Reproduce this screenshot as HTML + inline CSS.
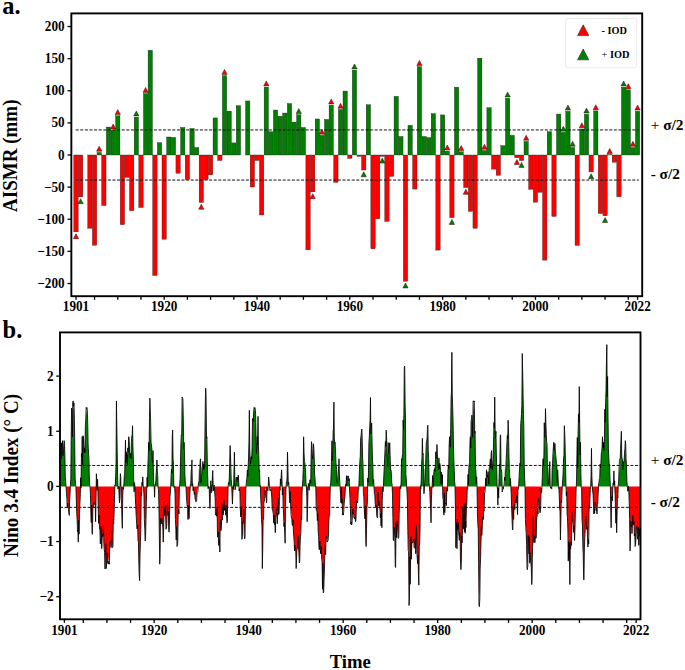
<!DOCTYPE html>
<html><head><meta charset="utf-8"><style>
html,body{margin:0;padding:0;background:#fff;width:685px;height:670px;overflow:hidden}
svg{display:block}
.t{font-family:"Liberation Serif",serif;font-weight:bold;fill:#000}
</style></head><body>
<svg width="685" height="670" viewBox="0 0 685 670">
<rect width="685" height="670" fill="#fff"/>
<g><rect x="73.83" y="155.00" width="4.35" height="76.84" fill="#ff0000" stroke="#1a1a1a" stroke-width="0.35"/><rect x="78.47" y="155.00" width="4.35" height="41.89" fill="#ff0000" stroke="#1a1a1a" stroke-width="0.35"/><rect x="87.75" y="155.00" width="4.35" height="73.25" fill="#ff0000" stroke="#1a1a1a" stroke-width="0.35"/><rect x="92.39" y="155.00" width="4.35" height="90.21" fill="#ff0000" stroke="#1a1a1a" stroke-width="0.35"/><rect x="97.03" y="152.43" width="4.35" height="2.57" fill="#008000" stroke="#1a1a1a" stroke-width="0.35"/><rect x="101.67" y="155.00" width="4.35" height="50.56" fill="#ff0000" stroke="#1a1a1a" stroke-width="0.35"/><rect x="106.31" y="127.05" width="4.35" height="27.95" fill="#008000" stroke="#1a1a1a" stroke-width="0.35"/><rect x="110.95" y="130.20" width="4.35" height="24.80" fill="#008000" stroke="#1a1a1a" stroke-width="0.35"/><rect x="115.59" y="115.81" width="4.35" height="39.19" fill="#008000" stroke="#1a1a1a" stroke-width="0.35"/><rect x="120.23" y="155.00" width="4.35" height="69.65" fill="#ff0000" stroke="#1a1a1a" stroke-width="0.35"/><rect x="124.88" y="155.00" width="4.35" height="22.42" fill="#ff0000" stroke="#1a1a1a" stroke-width="0.35"/><rect x="129.52" y="155.00" width="4.35" height="55.64" fill="#ff0000" stroke="#1a1a1a" stroke-width="0.35"/><rect x="134.16" y="117.22" width="4.35" height="37.78" fill="#008000" stroke="#1a1a1a" stroke-width="0.35"/><rect x="138.80" y="155.00" width="4.35" height="52.49" fill="#ff0000" stroke="#1a1a1a" stroke-width="0.35"/><rect x="143.44" y="93.58" width="4.35" height="61.42" fill="#008000" stroke="#1a1a1a" stroke-width="0.35"/><rect x="148.08" y="50.27" width="4.35" height="104.73" fill="#008000" stroke="#1a1a1a" stroke-width="0.35"/><rect x="152.72" y="155.00" width="4.35" height="120.47" fill="#ff0000" stroke="#1a1a1a" stroke-width="0.35"/><rect x="157.36" y="142.66" width="4.35" height="12.34" fill="#008000" stroke="#1a1a1a" stroke-width="0.35"/><rect x="162.00" y="155.00" width="4.35" height="84.17" fill="#ff0000" stroke="#1a1a1a" stroke-width="0.35"/><rect x="166.64" y="137.01" width="4.35" height="17.99" fill="#008000" stroke="#1a1a1a" stroke-width="0.35"/><rect x="171.29" y="137.40" width="4.35" height="17.60" fill="#008000" stroke="#1a1a1a" stroke-width="0.35"/><rect x="175.93" y="155.00" width="4.35" height="18.18" fill="#ff0000" stroke="#1a1a1a" stroke-width="0.35"/><rect x="180.57" y="127.44" width="4.35" height="27.56" fill="#008000" stroke="#1a1a1a" stroke-width="0.35"/><rect x="185.21" y="155.00" width="4.35" height="24.54" fill="#ff0000" stroke="#1a1a1a" stroke-width="0.35"/><rect x="189.85" y="128.53" width="4.35" height="26.47" fill="#008000" stroke="#1a1a1a" stroke-width="0.35"/><rect x="194.49" y="147.61" width="4.35" height="7.39" fill="#008000" stroke="#1a1a1a" stroke-width="0.35"/><rect x="199.13" y="155.00" width="4.35" height="47.42" fill="#ff0000" stroke="#1a1a1a" stroke-width="0.35"/><rect x="203.77" y="155.00" width="4.35" height="24.54" fill="#ff0000" stroke="#1a1a1a" stroke-width="0.35"/><rect x="208.41" y="155.00" width="4.35" height="19.85" fill="#ff0000" stroke="#1a1a1a" stroke-width="0.35"/><rect x="213.05" y="117.93" width="4.35" height="37.07" fill="#008000" stroke="#1a1a1a" stroke-width="0.35"/><rect x="217.70" y="155.00" width="4.35" height="5.46" fill="#ff0000" stroke="#1a1a1a" stroke-width="0.35"/><rect x="222.34" y="75.59" width="4.35" height="79.41" fill="#008000" stroke="#1a1a1a" stroke-width="0.35"/><rect x="226.98" y="111.12" width="4.35" height="43.88" fill="#008000" stroke="#1a1a1a" stroke-width="0.35"/><rect x="231.62" y="142.92" width="4.35" height="12.08" fill="#008000" stroke="#1a1a1a" stroke-width="0.35"/><rect x="236.26" y="105.66" width="4.35" height="49.34" fill="#008000" stroke="#1a1a1a" stroke-width="0.35"/><rect x="245.54" y="100.97" width="4.35" height="54.03" fill="#008000" stroke="#1a1a1a" stroke-width="0.35"/><rect x="250.18" y="155.00" width="4.35" height="32.00" fill="#ff0000" stroke="#1a1a1a" stroke-width="0.35"/><rect x="254.82" y="155.00" width="4.35" height="5.46" fill="#ff0000" stroke="#1a1a1a" stroke-width="0.35"/><rect x="259.46" y="155.00" width="4.35" height="59.95" fill="#ff0000" stroke="#1a1a1a" stroke-width="0.35"/><rect x="264.11" y="87.15" width="4.35" height="67.85" fill="#008000" stroke="#1a1a1a" stroke-width="0.35"/><rect x="268.75" y="131.68" width="4.35" height="23.32" fill="#008000" stroke="#1a1a1a" stroke-width="0.35"/><rect x="273.39" y="110.03" width="4.35" height="44.97" fill="#008000" stroke="#1a1a1a" stroke-width="0.35"/><rect x="278.03" y="116.26" width="4.35" height="38.74" fill="#008000" stroke="#1a1a1a" stroke-width="0.35"/><rect x="282.67" y="113.04" width="4.35" height="41.96" fill="#008000" stroke="#1a1a1a" stroke-width="0.35"/><rect x="287.31" y="103.54" width="4.35" height="51.46" fill="#008000" stroke="#1a1a1a" stroke-width="0.35"/><rect x="291.95" y="122.10" width="4.35" height="32.90" fill="#008000" stroke="#1a1a1a" stroke-width="0.35"/><rect x="296.59" y="114.72" width="4.35" height="40.28" fill="#008000" stroke="#1a1a1a" stroke-width="0.35"/><rect x="301.23" y="127.44" width="4.35" height="27.56" fill="#008000" stroke="#1a1a1a" stroke-width="0.35"/><rect x="305.88" y="155.00" width="4.35" height="94.83" fill="#ff0000" stroke="#1a1a1a" stroke-width="0.35"/><rect x="310.52" y="155.00" width="4.35" height="36.88" fill="#ff0000" stroke="#1a1a1a" stroke-width="0.35"/><rect x="315.16" y="118.96" width="4.35" height="36.04" fill="#008000" stroke="#1a1a1a" stroke-width="0.35"/><rect x="319.80" y="135.34" width="4.35" height="19.66" fill="#008000" stroke="#1a1a1a" stroke-width="0.35"/><rect x="324.44" y="119.41" width="4.35" height="35.59" fill="#008000" stroke="#1a1a1a" stroke-width="0.35"/><rect x="329.08" y="105.21" width="4.35" height="49.79" fill="#008000" stroke="#1a1a1a" stroke-width="0.35"/><rect x="333.72" y="155.00" width="4.35" height="27.31" fill="#ff0000" stroke="#1a1a1a" stroke-width="0.35"/><rect x="338.36" y="109.45" width="4.35" height="45.55" fill="#008000" stroke="#1a1a1a" stroke-width="0.35"/><rect x="343.00" y="91.07" width="4.35" height="63.93" fill="#008000" stroke="#1a1a1a" stroke-width="0.35"/><rect x="347.64" y="155.00" width="4.35" height="3.41" fill="#ff0000" stroke="#1a1a1a" stroke-width="0.35"/><rect x="352.28" y="70.19" width="4.35" height="84.81" fill="#008000" stroke="#1a1a1a" stroke-width="0.35"/><rect x="356.93" y="155.00" width="4.35" height="1.28" fill="#ff0000" stroke="#1a1a1a" stroke-width="0.35"/><rect x="361.57" y="155.00" width="4.35" height="14.97" fill="#ff0000" stroke="#1a1a1a" stroke-width="0.35"/><rect x="366.21" y="104.76" width="4.35" height="50.24" fill="#008000" stroke="#1a1a1a" stroke-width="0.35"/><rect x="370.85" y="155.00" width="4.35" height="93.81" fill="#ff0000" stroke="#1a1a1a" stroke-width="0.35"/><rect x="375.49" y="155.00" width="4.35" height="63.74" fill="#ff0000" stroke="#1a1a1a" stroke-width="0.35"/><rect x="380.13" y="155.00" width="4.35" height="1.28" fill="#ff0000" stroke="#1a1a1a" stroke-width="0.35"/><rect x="384.77" y="155.00" width="4.35" height="66.43" fill="#ff0000" stroke="#1a1a1a" stroke-width="0.35"/><rect x="389.41" y="155.00" width="4.35" height="21.40" fill="#ff0000" stroke="#1a1a1a" stroke-width="0.35"/><rect x="394.05" y="96.34" width="4.35" height="58.66" fill="#008000" stroke="#1a1a1a" stroke-width="0.35"/><rect x="398.69" y="136.50" width="4.35" height="18.50" fill="#008000" stroke="#1a1a1a" stroke-width="0.35"/><rect x="403.34" y="155.00" width="4.35" height="126.19" fill="#ff0000" stroke="#1a1a1a" stroke-width="0.35"/><rect x="407.98" y="125.32" width="4.35" height="29.68" fill="#008000" stroke="#1a1a1a" stroke-width="0.35"/><rect x="412.62" y="155.00" width="4.35" height="34.05" fill="#ff0000" stroke="#1a1a1a" stroke-width="0.35"/><rect x="417.26" y="66.66" width="4.35" height="88.34" fill="#008000" stroke="#1a1a1a" stroke-width="0.35"/><rect x="421.90" y="136.50" width="4.35" height="18.50" fill="#008000" stroke="#1a1a1a" stroke-width="0.35"/><rect x="426.54" y="137.65" width="4.35" height="17.35" fill="#008000" stroke="#1a1a1a" stroke-width="0.35"/><rect x="431.18" y="113.62" width="4.35" height="41.38" fill="#008000" stroke="#1a1a1a" stroke-width="0.35"/><rect x="435.82" y="155.00" width="4.35" height="95.09" fill="#ff0000" stroke="#1a1a1a" stroke-width="0.35"/><rect x="440.46" y="114.91" width="4.35" height="40.09" fill="#008000" stroke="#1a1a1a" stroke-width="0.35"/><rect x="445.10" y="151.15" width="4.35" height="3.85" fill="#008000" stroke="#1a1a1a" stroke-width="0.35"/><rect x="449.75" y="155.00" width="4.35" height="62.64" fill="#ff0000" stroke="#1a1a1a" stroke-width="0.35"/><rect x="454.39" y="87.15" width="4.35" height="67.85" fill="#008000" stroke="#1a1a1a" stroke-width="0.35"/><rect x="459.03" y="151.79" width="4.35" height="3.21" fill="#008000" stroke="#1a1a1a" stroke-width="0.35"/><rect x="463.67" y="155.00" width="4.35" height="32.57" fill="#ff0000" stroke="#1a1a1a" stroke-width="0.35"/><rect x="468.31" y="155.00" width="4.35" height="56.35" fill="#ff0000" stroke="#1a1a1a" stroke-width="0.35"/><rect x="472.95" y="155.00" width="4.35" height="73.25" fill="#ff0000" stroke="#1a1a1a" stroke-width="0.35"/><rect x="477.59" y="58.18" width="4.35" height="96.82" fill="#008000" stroke="#1a1a1a" stroke-width="0.35"/><rect x="482.23" y="150.50" width="4.35" height="4.50" fill="#008000" stroke="#1a1a1a" stroke-width="0.35"/><rect x="486.87" y="107.71" width="4.35" height="47.29" fill="#008000" stroke="#1a1a1a" stroke-width="0.35"/><rect x="491.51" y="155.00" width="4.35" height="14.13" fill="#ff0000" stroke="#1a1a1a" stroke-width="0.35"/><rect x="496.16" y="155.00" width="4.35" height="20.30" fill="#ff0000" stroke="#1a1a1a" stroke-width="0.35"/><rect x="500.80" y="145.68" width="4.35" height="9.32" fill="#008000" stroke="#1a1a1a" stroke-width="0.35"/><rect x="505.44" y="98.27" width="4.35" height="56.73" fill="#008000" stroke="#1a1a1a" stroke-width="0.35"/><rect x="510.08" y="135.34" width="4.35" height="19.66" fill="#008000" stroke="#1a1a1a" stroke-width="0.35"/><rect x="514.72" y="155.00" width="4.35" height="2.70" fill="#ff0000" stroke="#1a1a1a" stroke-width="0.35"/><rect x="519.36" y="155.00" width="4.35" height="5.59" fill="#ff0000" stroke="#1a1a1a" stroke-width="0.35"/><rect x="524.00" y="141.44" width="4.35" height="13.56" fill="#008000" stroke="#1a1a1a" stroke-width="0.35"/><rect x="528.64" y="155.00" width="4.35" height="34.31" fill="#ff0000" stroke="#1a1a1a" stroke-width="0.35"/><rect x="533.28" y="155.00" width="4.35" height="47.16" fill="#ff0000" stroke="#1a1a1a" stroke-width="0.35"/><rect x="537.93" y="155.00" width="4.35" height="37.26" fill="#ff0000" stroke="#1a1a1a" stroke-width="0.35"/><rect x="542.57" y="155.00" width="4.35" height="105.11" fill="#ff0000" stroke="#1a1a1a" stroke-width="0.35"/><rect x="547.21" y="131.68" width="4.35" height="23.32" fill="#008000" stroke="#1a1a1a" stroke-width="0.35"/><rect x="551.85" y="155.00" width="4.35" height="61.42" fill="#ff0000" stroke="#1a1a1a" stroke-width="0.35"/><rect x="556.49" y="114.07" width="4.35" height="40.93" fill="#008000" stroke="#1a1a1a" stroke-width="0.35"/><rect x="561.13" y="132.38" width="4.35" height="22.62" fill="#008000" stroke="#1a1a1a" stroke-width="0.35"/><rect x="565.77" y="111.31" width="4.35" height="43.69" fill="#008000" stroke="#1a1a1a" stroke-width="0.35"/><rect x="570.41" y="147.48" width="4.35" height="7.52" fill="#008000" stroke="#1a1a1a" stroke-width="0.35"/><rect x="575.05" y="155.00" width="4.35" height="90.40" fill="#ff0000" stroke="#1a1a1a" stroke-width="0.35"/><rect x="579.69" y="129.04" width="4.35" height="25.96" fill="#008000" stroke="#1a1a1a" stroke-width="0.35"/><rect x="584.34" y="114.27" width="4.35" height="40.73" fill="#008000" stroke="#1a1a1a" stroke-width="0.35"/><rect x="588.98" y="155.00" width="4.35" height="16.90" fill="#ff0000" stroke="#1a1a1a" stroke-width="0.35"/><rect x="593.62" y="110.92" width="4.35" height="44.08" fill="#008000" stroke="#1a1a1a" stroke-width="0.35"/><rect x="598.26" y="155.00" width="4.35" height="58.53" fill="#ff0000" stroke="#1a1a1a" stroke-width="0.35"/><rect x="602.90" y="155.00" width="4.35" height="60.78" fill="#ff0000" stroke="#1a1a1a" stroke-width="0.35"/><rect x="607.54" y="154.68" width="4.35" height="0.32" fill="#008000" stroke="#1a1a1a" stroke-width="0.35"/><rect x="612.18" y="155.00" width="4.35" height="7.20" fill="#ff0000" stroke="#1a1a1a" stroke-width="0.35"/><rect x="616.82" y="155.00" width="4.35" height="41.76" fill="#ff0000" stroke="#1a1a1a" stroke-width="0.35"/><rect x="621.46" y="87.15" width="4.35" height="67.85" fill="#008000" stroke="#1a1a1a" stroke-width="0.35"/><rect x="626.10" y="89.85" width="4.35" height="65.15" fill="#008000" stroke="#1a1a1a" stroke-width="0.35"/><rect x="630.75" y="147.48" width="4.35" height="7.52" fill="#008000" stroke="#1a1a1a" stroke-width="0.35"/><rect x="635.39" y="111.31" width="4.35" height="43.69" fill="#008000" stroke="#1a1a1a" stroke-width="0.35"/></g>
<line x1="75.7" y1="129.94" x2="638.8" y2="129.94" stroke="#111" stroke-width="1.0" stroke-dasharray="3 1.6"/>
<line x1="75.7" y1="180.06" x2="638.8" y2="180.06" stroke="#111" stroke-width="1.0" stroke-dasharray="3 1.6"/>
<g><path d="M73.35 238.64L76.00 233.64L78.65 238.64Z" fill="#ff0000" stroke="#200" stroke-width="0.45"/><path d="M77.99 203.69L80.64 198.69L83.29 203.69Z" fill="#008000" stroke="#200" stroke-width="0.45"/><path d="M96.55 151.23L99.20 146.23L101.86 151.23Z" fill="#ff0000" stroke="#200" stroke-width="0.45"/><path d="M110.48 129.00L113.13 124.00L115.78 129.00Z" fill="#ff0000" stroke="#200" stroke-width="0.45"/><path d="M115.12 114.61L117.77 109.61L120.42 114.61Z" fill="#ff0000" stroke="#200" stroke-width="0.45"/><path d="M133.68 116.02L136.33 111.02L138.98 116.02Z" fill="#008000" stroke="#200" stroke-width="0.45"/><path d="M142.97 92.38L145.62 87.38L148.27 92.38Z" fill="#ff0000" stroke="#200" stroke-width="0.45"/><path d="M198.66 209.22L201.31 204.22L203.96 209.22Z" fill="#ff0000" stroke="#200" stroke-width="0.45"/><path d="M221.86 74.39L224.51 69.39L227.16 74.39Z" fill="#ff0000" stroke="#200" stroke-width="0.45"/><path d="M263.63 85.95L266.28 80.95L268.93 85.95Z" fill="#ff0000" stroke="#200" stroke-width="0.45"/><path d="M296.12 113.52L298.77 108.52L301.42 113.52Z" fill="#008000" stroke="#200" stroke-width="0.45"/><path d="M310.04 198.68L312.69 193.68L315.34 198.68Z" fill="#ff0000" stroke="#200" stroke-width="0.45"/><path d="M319.32 134.14L321.97 129.14L324.62 134.14Z" fill="#ff0000" stroke="#200" stroke-width="0.45"/><path d="M328.61 104.01L331.25 99.01L333.90 104.01Z" fill="#ff0000" stroke="#200" stroke-width="0.45"/><path d="M337.89 108.25L340.54 103.25L343.19 108.25Z" fill="#ff0000" stroke="#200" stroke-width="0.45"/><path d="M351.81 68.99L354.46 63.99L357.11 68.99Z" fill="#008000" stroke="#200" stroke-width="0.45"/><path d="M361.09 176.77L363.74 171.77L366.39 176.77Z" fill="#008000" stroke="#200" stroke-width="0.45"/><path d="M379.66 163.09L382.31 158.09L384.96 163.09Z" fill="#008000" stroke="#200" stroke-width="0.45"/><path d="M402.86 287.99L405.51 282.99L408.16 287.99Z" fill="#008000" stroke="#200" stroke-width="0.45"/><path d="M416.78 65.46L419.43 60.46L422.08 65.46Z" fill="#ff0000" stroke="#200" stroke-width="0.45"/><path d="M444.63 149.95L447.28 144.95L449.93 149.95Z" fill="#ff0000" stroke="#200" stroke-width="0.45"/><path d="M449.27 224.44L451.92 219.44L454.57 224.44Z" fill="#008000" stroke="#200" stroke-width="0.45"/><path d="M458.55 150.59L461.20 145.59L463.85 150.59Z" fill="#ff0000" stroke="#200" stroke-width="0.45"/><path d="M463.19 194.37L465.84 189.37L468.49 194.37Z" fill="#ff0000" stroke="#200" stroke-width="0.45"/><path d="M481.76 149.30L484.41 144.30L487.06 149.30Z" fill="#ff0000" stroke="#200" stroke-width="0.45"/><path d="M504.96 97.07L507.61 92.07L510.26 97.07Z" fill="#008000" stroke="#200" stroke-width="0.45"/><path d="M514.25 164.50L516.89 159.50L519.54 164.50Z" fill="#ff0000" stroke="#200" stroke-width="0.45"/><path d="M518.89 167.39L521.54 162.39L524.19 167.39Z" fill="#008000" stroke="#200" stroke-width="0.45"/><path d="M523.53 140.24L526.18 135.24L528.83 140.24Z" fill="#ff0000" stroke="#200" stroke-width="0.45"/><path d="M560.66 131.18L563.31 126.18L565.96 131.18Z" fill="#008000" stroke="#200" stroke-width="0.45"/><path d="M565.30 110.11L567.95 105.11L570.60 110.11Z" fill="#008000" stroke="#200" stroke-width="0.45"/><path d="M569.94 146.28L572.59 141.28L575.24 146.28Z" fill="#008000" stroke="#200" stroke-width="0.45"/><path d="M579.22 127.84L581.87 122.84L584.52 127.84Z" fill="#ff0000" stroke="#200" stroke-width="0.45"/><path d="M583.86 113.07L586.51 108.07L589.16 113.07Z" fill="#008000" stroke="#200" stroke-width="0.45"/><path d="M588.50 178.70L591.15 173.70L593.80 178.70Z" fill="#008000" stroke="#200" stroke-width="0.45"/><path d="M593.14 109.72L595.79 104.72L598.44 109.72Z" fill="#ff0000" stroke="#200" stroke-width="0.45"/><path d="M602.42 222.58L605.07 217.58L607.72 222.58Z" fill="#008000" stroke="#200" stroke-width="0.45"/><path d="M607.07 153.48L609.72 148.48L612.37 153.48Z" fill="#ff0000" stroke="#200" stroke-width="0.45"/><path d="M620.99 85.95L623.64 80.95L626.29 85.95Z" fill="#008000" stroke="#200" stroke-width="0.45"/><path d="M625.63 88.65L628.28 83.65L630.93 88.65Z" fill="#ff0000" stroke="#200" stroke-width="0.45"/><path d="M630.27 146.28L632.92 141.28L635.57 146.28Z" fill="#ff0000" stroke="#200" stroke-width="0.45"/><path d="M634.91 110.11L637.56 105.11L640.21 110.11Z" fill="#ff0000" stroke="#200" stroke-width="0.45"/></g>
<rect x="565.5" y="18.5" width="71.2" height="49.3" rx="2.5" fill="#fff" fill-opacity="0.8" stroke="#e6e6e6" stroke-width="0.8"/>
<path d="M577.60 35.60L583.20 24.80L588.80 35.60Z" fill="#ff0000" stroke="#333" stroke-width="0.70"/>
<path d="M577.60 59.80L583.20 49.00L588.80 59.80Z" fill="#008000" stroke="#333" stroke-width="0.70"/>
<text transform="translate(601.50,33.60) scale(1,1.080)" class="t" font-size="10.30">- IOD</text>
<text transform="translate(601.50,58.00) scale(1,1.080)" class="t" font-size="10.30"><tspan font-weight="normal">+</tspan> IOD</text>
<rect x="71.35" y="13.40" width="570.85" height="282.80" fill="none" stroke="#000" stroke-width="1.9"/>
<line x1="67.55" y1="283.50" x2="71.35" y2="283.50" stroke="#000" stroke-width="1.3"/>
<text transform="translate(64.60,288.10) scale(1,1.080)" class="t" font-size="13.20" text-anchor="end">−200</text>
<line x1="67.55" y1="251.38" x2="71.35" y2="251.38" stroke="#000" stroke-width="1.3"/>
<text transform="translate(64.60,255.97) scale(1,1.080)" class="t" font-size="13.20" text-anchor="end">−150</text>
<line x1="67.55" y1="219.25" x2="71.35" y2="219.25" stroke="#000" stroke-width="1.3"/>
<text transform="translate(64.60,223.85) scale(1,1.080)" class="t" font-size="13.20" text-anchor="end">−100</text>
<line x1="67.55" y1="187.12" x2="71.35" y2="187.12" stroke="#000" stroke-width="1.3"/>
<text transform="translate(64.60,191.72) scale(1,1.080)" class="t" font-size="13.20" text-anchor="end">−50</text>
<line x1="67.55" y1="155.00" x2="71.35" y2="155.00" stroke="#000" stroke-width="1.3"/>
<text transform="translate(64.60,159.60) scale(1,1.080)" class="t" font-size="13.20" text-anchor="end">0</text>
<line x1="67.55" y1="122.88" x2="71.35" y2="122.88" stroke="#000" stroke-width="1.3"/>
<text transform="translate(64.60,127.47) scale(1,1.080)" class="t" font-size="13.20" text-anchor="end">50</text>
<line x1="67.55" y1="90.75" x2="71.35" y2="90.75" stroke="#000" stroke-width="1.3"/>
<text transform="translate(64.60,95.35) scale(1,1.080)" class="t" font-size="13.20" text-anchor="end">100</text>
<line x1="67.55" y1="58.62" x2="71.35" y2="58.62" stroke="#000" stroke-width="1.3"/>
<text transform="translate(64.60,63.23) scale(1,1.080)" class="t" font-size="13.20" text-anchor="end">150</text>
<line x1="67.55" y1="26.50" x2="71.35" y2="26.50" stroke="#000" stroke-width="1.3"/>
<text transform="translate(64.60,31.10) scale(1,1.080)" class="t" font-size="13.20" text-anchor="end">200</text>
<line x1="76.00" y1="296.20" x2="76.00" y2="299.80" stroke="#000" stroke-width="1.3"/>
<line x1="94.56" y1="296.20" x2="94.56" y2="299.80" stroke="#000" stroke-width="1.3"/>
<line x1="117.77" y1="296.20" x2="117.77" y2="299.80" stroke="#000" stroke-width="1.3"/>
<line x1="140.97" y1="296.20" x2="140.97" y2="299.80" stroke="#000" stroke-width="1.3"/>
<line x1="164.18" y1="296.20" x2="164.18" y2="299.80" stroke="#000" stroke-width="1.3"/>
<line x1="187.38" y1="296.20" x2="187.38" y2="299.80" stroke="#000" stroke-width="1.3"/>
<line x1="210.59" y1="296.20" x2="210.59" y2="299.80" stroke="#000" stroke-width="1.3"/>
<line x1="233.79" y1="296.20" x2="233.79" y2="299.80" stroke="#000" stroke-width="1.3"/>
<line x1="257.00" y1="296.20" x2="257.00" y2="299.80" stroke="#000" stroke-width="1.3"/>
<line x1="280.20" y1="296.20" x2="280.20" y2="299.80" stroke="#000" stroke-width="1.3"/>
<line x1="303.41" y1="296.20" x2="303.41" y2="299.80" stroke="#000" stroke-width="1.3"/>
<line x1="326.61" y1="296.20" x2="326.61" y2="299.80" stroke="#000" stroke-width="1.3"/>
<line x1="349.82" y1="296.20" x2="349.82" y2="299.80" stroke="#000" stroke-width="1.3"/>
<line x1="373.02" y1="296.20" x2="373.02" y2="299.80" stroke="#000" stroke-width="1.3"/>
<line x1="396.23" y1="296.20" x2="396.23" y2="299.80" stroke="#000" stroke-width="1.3"/>
<line x1="419.43" y1="296.20" x2="419.43" y2="299.80" stroke="#000" stroke-width="1.3"/>
<line x1="442.64" y1="296.20" x2="442.64" y2="299.80" stroke="#000" stroke-width="1.3"/>
<line x1="465.84" y1="296.20" x2="465.84" y2="299.80" stroke="#000" stroke-width="1.3"/>
<line x1="489.05" y1="296.20" x2="489.05" y2="299.80" stroke="#000" stroke-width="1.3"/>
<line x1="512.25" y1="296.20" x2="512.25" y2="299.80" stroke="#000" stroke-width="1.3"/>
<line x1="535.46" y1="296.20" x2="535.46" y2="299.80" stroke="#000" stroke-width="1.3"/>
<line x1="558.66" y1="296.20" x2="558.66" y2="299.80" stroke="#000" stroke-width="1.3"/>
<line x1="581.87" y1="296.20" x2="581.87" y2="299.80" stroke="#000" stroke-width="1.3"/>
<line x1="605.07" y1="296.20" x2="605.07" y2="299.80" stroke="#000" stroke-width="1.3"/>
<line x1="628.28" y1="296.20" x2="628.28" y2="299.80" stroke="#000" stroke-width="1.3"/>
<line x1="637.56" y1="296.20" x2="637.56" y2="299.80" stroke="#000" stroke-width="1.3"/>
<text transform="translate(76.00,311.20) scale(1,1.080)" class="t" font-size="13.20" text-anchor="middle">1901</text>
<text transform="translate(164.18,311.20) scale(1,1.080)" class="t" font-size="13.20" text-anchor="middle">1920</text>
<text transform="translate(257.00,311.20) scale(1,1.080)" class="t" font-size="13.20" text-anchor="middle">1940</text>
<text transform="translate(349.82,311.20) scale(1,1.080)" class="t" font-size="13.20" text-anchor="middle">1960</text>
<text transform="translate(442.64,311.20) scale(1,1.080)" class="t" font-size="13.20" text-anchor="middle">1980</text>
<text transform="translate(535.46,311.20) scale(1,1.080)" class="t" font-size="13.20" text-anchor="middle">2000</text>
<text transform="translate(637.56,311.20) scale(1,1.080)" class="t" font-size="13.20" text-anchor="middle">2022</text>
<text transform="translate(650.70,129.50) scale(1,1.000)" class="t" font-size="15.30"><tspan font-weight="normal">+</tspan> σ/2</text>
<text transform="translate(650.70,179.30) scale(1,1.000)" class="t" font-size="15.30">- σ/2</text>
<text transform="translate(16.60,155.70) rotate(-90) scale(1,1.080)" class="t" font-size="19.00" text-anchor="middle">AISMR (mm)</text>
<text transform="translate(2.30,14.30) scale(1,1.000)" class="t" font-size="24.50">a.</text>
<path d="M60.20 486.40L60.20 456.07L60.59 452.04L60.99 459.08L61.38 444.44L61.77 449.72L62.17 454.60L62.56 450.99L62.95 456.07L63.35 454.56L63.74 449.29L64.13 444.96L64.53 442.71L64.92 459.92L65.31 477.90L65.71 481.76L66.05 486.40L66.10 486.40L66.49 486.40L66.89 486.40L67.28 486.40L67.67 486.40L68.06 486.40L68.46 486.40L68.85 486.40L69.24 486.40L69.64 486.40L70.03 486.40L70.42 486.40L70.82 479.01L71.21 436.76L71.60 414.47L72.00 414.62L72.39 437.06L72.78 402.13L73.18 404.01L73.57 407.44L73.96 410.34L74.36 426.11L74.75 451.19L75.14 479.42L75.54 486.40L75.93 486.40L76.32 486.40L76.72 486.40L77.11 486.40L77.50 486.40L77.90 486.40L78.29 486.40L78.68 486.40L79.08 486.40L79.47 486.40L79.86 486.40L80.26 486.40L80.49 486.40L80.65 483.04L81.04 486.40L81.44 455.93L81.83 457.00L82.22 446.44L82.62 465.23L83.01 441.04L83.40 437.77L83.79 443.41L84.19 452.52L84.58 447.79L84.97 452.98L85.37 429.21L85.76 422.94L86.15 414.70L86.55 409.41L86.94 414.35L87.33 418.38L87.73 428.08L88.12 446.08L88.51 453.70L88.91 464.58L89.30 477.71L89.69 485.39L89.94 486.40L90.09 486.40L90.48 486.40L90.87 486.40L91.27 486.40L91.66 486.40L92.05 486.40L92.45 486.40L92.84 486.40L93.23 486.40L93.63 486.40L94.02 486.40L94.41 486.40L94.81 486.40L95.20 486.40L95.59 486.40L95.99 486.40L96.25 486.40L96.38 479.69L96.77 483.47L97.17 486.40L97.56 486.40L97.95 486.40L98.35 486.40L98.74 486.40L99.13 486.40L99.52 486.40L99.92 486.40L100.31 486.40L100.70 486.40L101.10 486.40L101.49 486.40L101.88 486.40L102.28 486.40L102.67 486.40L103.06 486.40L103.46 486.40L103.85 486.40L104.24 486.40L104.64 486.40L105.03 486.40L105.42 486.40L105.82 486.40L106.21 486.40L106.60 486.40L107.00 486.40L107.39 486.40L107.78 486.40L108.18 486.40L108.57 486.40L108.96 486.40L109.36 486.40L109.75 486.40L110.14 486.40L110.54 486.40L110.93 486.40L111.32 486.40L111.72 486.40L112.11 486.40L112.50 486.40L112.90 486.40L113.29 486.40L113.68 486.40L114.08 486.40L114.47 486.40L114.86 486.40L115.25 486.11L115.65 476.62L116.04 464.48L116.43 413.03L116.83 427.44L117.22 455.13L117.61 477.65L117.97 486.40L118.01 486.40L118.40 486.40L118.79 486.40L119.19 486.40L119.58 486.40L119.97 486.40L120.37 476.49L120.76 479.72L120.92 486.40L121.15 486.40L121.55 486.40L121.94 486.40L122.33 486.40L122.73 486.40L123.12 486.40L123.51 486.40L123.91 483.89L124.30 477.51L124.69 473.52L125.09 459.35L125.48 443.35L125.87 463.10L126.27 453.67L126.66 458.82L127.05 457.04L127.45 465.94L127.84 449.81L128.23 452.27L128.63 437.04L129.02 441.01L129.41 446.66L129.81 457.12L130.20 457.58L130.59 453.31L130.98 458.74L131.38 445.71L131.77 439.61L132.16 436.48L132.56 428.10L132.95 447.40L133.34 458.82L133.74 481.70L134.13 486.40L134.52 486.40L134.92 486.40L135.31 486.40L135.70 486.40L136.10 486.40L136.49 486.40L136.88 486.40L137.28 486.40L137.67 486.40L138.06 486.40L138.46 486.40L138.85 486.40L139.24 486.40L139.64 486.40L140.03 486.40L140.42 486.40L140.82 486.40L141.21 486.40L141.60 486.40L142.00 486.40L142.39 485.59L142.78 481.71L143.18 486.23L143.21 486.40L143.57 486.40L143.96 486.40L144.36 486.40L144.75 486.40L145.14 486.40L145.54 486.40L145.93 486.40L146.32 486.40L146.71 486.40L146.89 486.40L147.11 482.89L147.50 486.40L147.89 467.17L148.29 455.53L148.68 442.28L149.07 450.57L149.47 417.69L149.86 404.70L150.25 420.58L150.65 433.21L151.04 442.50L151.43 445.21L151.83 448.57L152.22 461.21L152.61 462.60L153.01 454.77L153.40 473.97L153.79 485.22L154.02 486.40L154.19 486.40L154.58 486.40L154.97 486.40L155.37 485.14L155.76 482.03L156.15 475.82L156.55 469.42L156.94 460.92L157.33 473.18L157.73 481.39L158.06 486.40L158.12 486.40L158.51 486.40L158.91 486.40L159.30 486.40L159.69 486.40L160.09 486.40L160.48 486.40L160.87 486.40L161.27 486.40L161.66 486.40L162.05 486.40L162.44 486.40L162.84 486.40L163.23 486.40L163.62 486.40L164.02 486.40L164.41 486.40L164.80 486.40L165.20 486.40L165.59 486.40L165.98 486.40L166.38 486.40L166.77 486.40L167.16 486.40L167.56 486.40L167.95 486.40L168.34 486.40L168.74 486.40L169.13 486.40L169.52 486.40L169.92 486.40L170.31 486.40L170.70 486.40L171.10 479.25L171.49 471.09L171.88 473.31L172.28 442.21L172.67 433.17L173.06 458.91L173.46 469.80L173.85 486.40L174.24 486.40L174.64 486.40L175.03 486.40L175.42 486.40L175.82 486.40L176.21 486.40L176.60 486.40L177.00 486.40L177.39 486.40L177.78 486.40L178.17 486.40L178.57 486.40L178.96 486.40L179.35 486.40L179.54 486.40L179.75 484.62L180.14 478.36L180.53 463.01L180.93 444.91L181.32 438.16L181.71 435.44L182.11 410.82L182.50 398.19L182.89 411.39L183.29 426.29L183.68 448.30L184.07 444.52L184.47 457.99L184.86 474.89L185.25 481.13L185.65 486.40L186.04 486.40L186.43 486.40L186.83 486.40L187.22 486.40L187.61 486.40L188.01 486.40L188.40 486.40L188.79 486.40L189.19 486.40L189.58 486.40L189.97 486.40L190.37 486.40L190.76 484.95L191.15 476.74L191.55 468.47L191.94 465.31L192.33 485.64L192.73 486.40L193.12 486.40L193.51 486.40L193.90 486.40L194.30 486.40L194.69 486.40L195.08 486.40L195.48 486.40L195.87 486.40L196.26 486.40L196.66 486.40L197.05 486.40L197.44 486.40L197.84 486.40L198.14 486.40L198.23 485.85L198.62 483.56L199.02 482.48L199.41 474.41L199.80 471.87L200.20 464.72L200.59 461.44L200.98 482.56L201.38 477.19L201.77 474.80L202.16 468.89L202.56 467.44L202.95 466.87L203.34 469.85L203.74 467.07L204.13 467.31L204.52 468.70L204.92 436.76L205.31 416.88L205.70 393.96L206.10 406.78L206.49 438.37L206.88 440.12L207.28 461.32L207.67 475.62L208.06 486.40L208.46 486.40L208.85 486.40L209.24 486.40L209.63 486.40L210.03 486.40L210.42 486.40L210.81 486.40L211.21 486.40L211.55 486.40L211.60 486.02L211.99 486.40L212.39 477.18L212.78 472.32L213.17 485.24L213.57 486.40L213.96 486.16L214.35 486.40L214.75 486.40L215.14 486.40L215.53 486.40L215.93 486.40L216.32 486.40L216.71 486.40L217.11 486.40L217.50 486.40L217.89 486.40L218.29 486.40L218.68 486.40L219.07 486.40L219.47 486.40L219.86 486.40L220.25 486.40L220.65 486.40L221.04 486.40L221.43 486.40L221.83 486.40L222.22 486.40L222.61 486.40L223.01 486.40L223.40 486.40L223.79 486.40L224.19 486.40L224.58 486.40L224.97 486.40L225.36 486.40L225.76 486.40L226.15 486.40L226.54 486.40L226.94 486.40L227.33 486.40L227.72 486.40L228.12 486.40L228.51 485.29L228.90 484.16L229.30 477.35L229.69 463.39L230.08 446.10L230.48 460.19L230.87 474.28L231.26 483.08L231.66 486.40L232.05 486.40L232.44 486.40L232.84 486.40L233.23 486.40L233.62 486.40L234.02 470.30L234.41 456.00L234.80 479.22L235.20 486.40L235.59 486.40L235.98 483.32L236.38 481.40L236.77 481.95L237.16 480.34L237.56 477.31L237.95 479.55L238.34 475.15L238.74 482.46L239.13 486.40L239.52 486.40L239.92 486.40L240.31 486.40L240.70 486.40L241.09 486.40L241.49 486.40L241.88 486.40L242.27 486.40L242.67 486.40L243.06 486.40L243.45 486.40L243.85 486.40L244.24 486.40L244.63 486.40L245.03 486.40L245.42 486.40L245.81 486.40L246.21 486.40L246.60 483.29L246.99 479.30L247.39 471.74L247.78 476.44L248.17 464.85L248.57 458.82L248.96 441.86L249.35 414.80L249.75 450.51L250.14 458.82L250.53 463.97L250.93 457.61L251.32 456.62L251.71 459.16L252.11 446.81L252.50 425.50L252.89 420.22L253.29 421.29L253.68 411.95L254.07 409.60L254.47 409.02L254.86 410.61L255.25 412.23L255.65 414.70L256.04 438.09L256.43 453.31L256.82 449.99L257.22 440.48L257.61 445.10L258.00 423.30L258.40 449.65L258.79 459.42L259.18 471.42L259.58 474.07L259.97 486.40L260.36 486.40L260.76 486.40L261.15 486.40L261.54 486.40L261.94 486.40L262.33 486.40L262.72 486.40L263.12 486.40L263.51 486.40L263.90 486.40L264.30 486.40L264.69 486.40L265.08 486.40L265.48 486.40L265.87 486.40L266.26 486.40L266.66 486.40L267.05 486.40L267.44 486.40L267.84 486.40L268.23 486.40L268.62 479.14L269.02 480.57L269.41 486.40L269.80 486.40L270.20 486.40L270.59 486.40L270.98 486.40L271.38 486.40L271.77 486.40L272.16 486.40L272.55 486.40L272.95 486.40L273.34 486.40L273.73 486.40L274.13 486.40L274.52 486.40L274.91 486.40L275.31 486.40L275.70 486.40L276.09 486.40L276.49 486.40L276.88 486.40L277.27 486.40L277.67 486.40L278.06 486.40L278.45 486.40L278.85 486.40L279.24 486.40L279.63 486.40L280.03 486.40L280.42 482.99L280.81 484.12L281.21 475.53L281.60 472.32L281.99 482.42L282.22 486.40L282.39 486.40L282.78 486.40L283.17 486.40L283.57 486.40L283.96 486.40L284.35 486.40L284.75 486.40L285.14 486.40L285.53 486.40L285.93 486.40L286.21 486.40L286.32 485.23L286.71 483.16L287.11 476.83L287.50 452.26L287.89 469.72L288.28 484.43L288.68 486.40L289.07 486.40L289.46 486.40L289.86 486.40L290.25 486.40L290.64 486.40L291.04 486.40L291.43 486.40L291.82 486.40L292.22 486.40L292.61 486.40L293.00 486.40L293.40 486.40L293.79 486.40L294.18 486.40L294.58 486.40L294.97 486.40L295.36 486.40L295.76 486.40L296.15 486.40L296.54 486.40L296.94 486.40L297.33 486.40L297.72 486.40L298.12 486.40L298.51 486.40L298.90 486.40L299.30 486.40L299.69 486.40L300.08 486.40L300.48 486.40L300.87 486.40L301.26 486.40L301.66 486.40L302.05 486.40L302.44 486.40L302.84 480.81L303.23 470.03L303.62 440.74L304.02 452.45L304.41 461.38L304.80 463.36L305.19 468.07L305.59 471.62L305.98 484.91L306.37 485.70L306.41 486.40L306.77 486.40L307.16 486.40L307.55 486.40L307.95 486.40L308.28 486.40L308.34 485.48L308.73 485.30L309.13 486.40L309.52 484.68L309.91 480.89L310.31 481.80L310.70 483.26L311.09 458.68L311.49 444.51L311.88 447.10L312.27 454.74L312.67 458.82L313.06 457.50L313.45 451.44L313.85 448.98L314.24 460.48L314.63 475.92L315.03 480.65L315.42 486.40L315.81 486.40L316.21 486.40L316.60 486.40L316.99 486.40L317.39 486.40L317.78 486.40L318.17 486.40L318.57 486.40L318.96 486.40L319.35 486.40L319.75 486.40L320.14 486.40L320.53 486.40L320.92 486.40L321.32 486.40L321.71 486.40L322.10 486.40L322.50 486.40L322.89 486.40L323.28 486.40L323.68 486.40L324.07 486.40L324.46 486.40L324.86 486.40L325.25 486.40L325.64 486.40L326.04 486.40L326.43 486.40L326.82 486.40L327.22 486.40L327.61 486.40L328.00 486.40L328.40 486.40L328.79 486.40L329.18 486.40L329.58 486.40L329.97 486.40L330.34 486.40L330.36 485.86L330.76 482.46L331.15 473.95L331.54 458.82L331.94 451.33L332.33 460.49L332.72 455.65L333.12 431.25L333.51 428.30L333.90 406.18L334.30 438.21L334.69 443.58L335.08 444.13L335.48 453.83L335.87 463.14L336.26 468.01L336.65 471.98L337.05 481.16L337.44 483.65L337.83 481.54L338.23 476.94L338.62 468.19L339.01 463.01L339.41 479.05L339.80 486.40L340.19 486.40L340.59 486.40L340.98 486.40L341.37 486.40L341.77 486.40L342.16 486.40L342.55 486.40L342.95 486.40L343.34 486.40L343.73 486.40L344.13 486.40L344.52 486.40L344.91 486.40L345.31 486.40L345.56 486.40L345.70 484.96L346.09 485.99L346.49 482.85L346.88 485.90L347.27 484.58L347.67 481.11L348.06 479.48L348.45 477.14L348.85 482.06L349.24 483.80L349.43 486.40L349.63 486.40L350.03 486.40L350.42 486.40L350.81 486.40L351.21 486.40L351.60 486.40L351.99 486.40L352.38 486.40L352.78 486.40L353.17 486.40L353.56 486.40L353.96 486.40L354.35 486.40L354.74 486.40L355.14 486.40L355.53 486.40L355.92 486.40L356.32 486.40L356.71 486.40L357.10 486.40L357.50 486.40L357.89 486.40L358.28 486.40L358.68 486.40L359.07 480.98L359.46 470.69L359.86 464.63L360.25 456.80L360.64 440.78L361.04 437.03L361.43 432.96L361.82 433.42L362.22 447.04L362.61 458.82L363.00 471.32L363.40 486.40L363.79 486.40L364.18 486.40L364.58 486.40L364.97 486.40L365.36 486.40L365.76 486.40L366.15 486.40L366.54 486.40L366.94 486.40L367.33 486.40L367.72 486.40L368.11 482.60L368.51 473.04L368.90 446.70L369.29 439.36L369.69 429.94L370.08 419.36L370.47 398.57L370.87 433.91L371.26 431.73L371.65 434.29L372.05 443.65L372.44 460.24L372.83 468.95L373.23 483.97L373.62 483.34L373.98 486.40L374.01 486.40L374.41 486.40L374.80 486.40L375.19 486.40L375.59 486.40L375.98 486.40L376.37 486.40L376.77 486.40L377.16 486.40L377.55 486.40L377.95 486.40L378.34 486.40L378.73 486.40L379.13 486.40L379.52 486.40L379.91 486.40L380.31 486.40L380.70 486.40L381.09 486.40L381.49 486.40L381.88 486.40L382.27 486.40L382.67 486.40L383.06 486.40L383.37 486.40L383.45 485.85L383.84 477.55L384.24 467.92L384.63 458.82L385.02 453.40L385.42 447.02L385.81 446.60L386.20 430.26L386.60 442.15L386.99 453.01L387.38 458.82L387.78 466.63L388.17 452.07L388.56 453.31L388.96 450.80L389.35 447.98L389.74 443.96L390.14 456.58L390.53 470.97L390.92 469.85L391.32 476.29L391.71 484.13L392.10 486.40L392.50 486.40L392.89 486.40L393.28 486.40L393.68 486.40L394.07 486.40L394.46 486.40L394.86 486.40L395.25 486.40L395.64 486.40L396.04 486.40L396.43 486.40L396.82 486.40L397.22 486.40L397.61 486.40L398.00 486.40L398.40 486.40L398.79 486.40L399.18 486.40L399.57 486.40L399.97 486.40L400.36 486.40L400.75 486.40L401.15 482.06L401.54 458.82L401.93 459.66L402.33 456.26L402.72 453.79L403.11 420.22L403.51 429.37L403.90 414.50L404.29 375.49L404.69 377.94L405.08 406.56L405.47 420.22L405.87 474.43L406.26 478.30L406.65 486.30L406.66 486.40L407.05 486.40L407.44 486.40L407.83 486.40L408.23 486.40L408.62 486.40L409.01 486.40L409.41 486.40L409.80 486.40L410.19 486.40L410.59 486.40L410.98 486.40L411.37 486.40L411.77 486.40L412.16 486.40L412.55 486.40L412.95 486.40L413.34 486.40L413.73 486.40L414.13 486.40L414.52 486.40L414.91 486.40L415.30 486.40L415.70 486.40L416.09 486.40L416.48 486.40L416.88 486.40L417.27 486.40L417.66 486.40L418.06 486.40L418.45 486.40L418.84 486.40L419.24 486.40L419.63 486.40L420.02 486.40L420.42 486.40L420.81 486.40L421.20 480.24L421.60 464.34L421.99 457.97L422.38 442.05L422.78 454.77L423.17 465.34L423.56 477.21L423.78 486.40L423.96 486.40L424.35 486.40L424.49 486.40L424.74 483.32L425.14 469.85L425.53 467.40L425.92 456.69L426.32 446.34L426.71 441.35L427.10 437.84L427.50 428.13L427.89 437.38L428.28 454.62L428.68 464.48L429.07 483.98L429.46 486.22L429.47 486.40L429.86 486.40L430.25 486.40L430.64 486.40L431.03 486.40L431.43 486.40L431.82 486.40L432.21 486.40L432.61 483.13L433.00 486.40L433.39 486.39L433.79 473.75L434.18 469.85L434.57 468.81L434.97 471.29L435.36 464.96L435.75 460.08L436.15 459.96L436.54 456.97L436.93 446.98L437.33 453.94L437.72 463.52L438.11 466.74L438.51 469.85L438.90 465.90L439.29 468.74L439.69 465.34L440.08 465.42L440.47 471.81L440.87 484.08L441.26 477.79L441.65 481.88L442.05 485.34L442.44 486.40L442.83 486.40L443.23 486.40L443.62 486.40L444.01 486.40L444.41 486.40L444.80 486.40L445.19 486.40L445.59 486.40L445.98 486.40L446.37 486.40L446.76 486.40L447.16 486.40L447.55 486.40L447.94 472.07L448.34 467.07L448.73 469.09L449.12 449.04L449.52 436.76L449.91 439.28L450.30 447.23L450.70 428.76L451.09 398.16L451.48 392.04L451.88 353.84L452.27 395.08L452.66 410.60L453.06 422.90L453.45 446.49L453.84 461.64L454.24 469.85L454.63 481.77L455.02 486.40L455.42 486.40L455.81 486.40L456.20 486.40L456.60 486.40L456.99 486.40L457.38 486.40L457.78 486.40L458.17 486.40L458.56 486.40L458.96 486.40L459.35 486.40L459.74 486.40L460.14 486.40L460.53 486.40L460.92 486.40L461.32 486.40L461.71 486.40L462.10 486.40L462.49 486.40L462.89 486.40L463.28 486.40L463.67 486.40L464.07 486.40L464.46 486.40L464.85 486.40L465.25 486.40L465.64 486.40L466.03 486.40L466.43 486.40L466.82 486.40L467.21 486.40L467.61 486.40L467.68 486.40L468.00 481.70L468.39 484.50L468.79 469.83L469.18 464.34L469.57 462.40L469.97 448.78L470.36 439.89L470.75 447.99L471.15 422.27L471.54 420.24L471.93 418.92L472.33 420.31L472.72 437.37L473.11 411.55L473.51 407.40L473.90 402.04L474.29 412.90L474.69 433.50L475.08 434.11L475.47 469.25L475.87 470.06L476.26 483.78L476.65 479.48L477.01 486.40L477.05 486.40L477.44 486.40L477.83 486.40L478.22 486.40L478.62 486.40L479.01 486.40L479.40 486.40L479.80 486.40L480.19 486.40L480.58 486.40L480.98 486.40L481.37 486.40L481.76 486.40L482.16 486.40L482.55 486.40L482.94 486.40L483.34 486.40L483.73 486.40L484.12 486.40L484.52 486.40L484.91 486.40L485.30 486.40L485.70 481.05L486.09 485.61L486.48 470.09L486.88 475.30L487.27 475.01L487.66 477.46L488.06 474.22L488.45 478.04L488.84 484.23L489.24 468.94L489.63 467.10L490.02 464.38L490.42 461.80L490.81 468.30L491.20 454.23L491.60 453.31L491.99 466.79L492.38 469.85L492.78 464.02L493.17 458.89L493.56 442.28L493.95 429.88L494.35 428.06L494.74 401.23L495.13 429.95L495.53 438.80L495.92 431.25L496.31 454.05L496.71 472.88L497.10 486.40L497.49 486.40L497.89 486.40L498.28 486.40L498.67 486.40L499.07 478.27L499.46 465.43L499.85 466.72L500.25 441.39L500.64 443.98L501.03 470.57L501.43 469.85L501.82 476.79L502.21 486.40L502.61 486.40L503.00 486.40L503.39 486.40L503.79 486.40L504.18 486.40L504.57 483.57L504.97 481.71L505.36 472.63L505.75 469.94L506.15 462.54L506.54 454.75L506.93 443.83L507.33 438.21L507.72 438.99L508.11 424.67L508.51 439.86L508.90 453.31L509.29 468.46L509.68 475.99L510.08 485.80L510.47 484.00L510.86 486.40L510.86 486.40L511.26 486.40L511.65 486.40L512.04 486.40L512.44 486.40L512.83 486.40L513.22 486.40L513.62 486.40L514.01 486.40L514.40 486.40L514.80 486.40L515.19 486.40L515.58 486.40L515.98 486.40L516.37 486.40L516.76 486.40L517.16 486.40L517.55 486.40L517.94 486.40L518.34 486.40L518.55 486.40L518.73 485.05L519.12 478.45L519.52 469.85L519.91 464.52L520.30 465.58L520.70 432.84L521.09 420.22L521.48 414.50L521.88 404.64L522.27 361.07L522.66 375.38L523.06 399.69L523.45 414.70L523.84 436.91L524.24 466.79L524.63 480.01L525.02 486.40L525.41 486.40L525.81 486.40L526.20 486.40L526.59 486.40L526.99 486.40L527.38 486.40L527.77 486.40L528.17 486.40L528.56 486.40L528.95 486.40L529.35 486.40L529.74 486.40L530.13 486.40L530.53 486.40L530.92 486.40L531.31 486.40L531.71 486.40L532.10 486.40L532.49 486.40L532.89 486.40L533.28 486.40L533.67 486.40L534.07 486.40L534.46 486.40L534.85 486.40L535.25 486.40L535.64 486.40L536.03 486.40L536.43 486.40L536.82 486.40L537.21 486.40L537.61 486.40L538.00 486.40L538.39 486.40L538.79 486.40L539.18 486.40L539.57 486.40L539.97 486.40L540.36 486.40L540.75 486.40L541.14 486.40L541.54 486.40L541.93 486.40L542.32 476.81L542.72 466.65L543.11 458.82L543.50 465.65L543.90 455.97L544.29 436.22L544.68 436.76L545.08 437.44L545.47 412.61L545.86 422.47L546.26 434.32L546.65 442.28L547.04 451.65L547.44 470.81L547.83 480.15L548.22 484.47L548.62 482.91L549.01 469.85L549.40 466.79L549.80 465.16L550.19 485.94L550.35 486.40L550.58 486.40L550.98 486.40L551.37 486.40L551.76 486.40L551.78 486.40L552.16 469.85L552.55 465.33L552.94 458.38L553.34 450.71L553.73 446.01L554.12 450.43L554.52 447.00L554.91 445.08L555.30 452.05L555.70 456.70L556.09 459.62L556.48 463.90L556.87 466.82L557.27 482.82L557.66 472.31L558.05 479.18L558.45 486.40L558.84 486.40L559.23 486.40L559.63 486.40L560.02 486.40L560.41 486.40L560.81 486.40L561.20 486.40L561.59 486.40L561.99 486.40L562.33 486.40L562.38 485.82L562.77 480.38L563.17 471.92L563.56 458.82L563.95 455.26L564.35 431.74L564.74 438.79L565.13 453.99L565.53 465.37L565.92 483.14L566.11 486.40L566.31 486.40L566.71 486.40L567.10 486.40L567.49 486.40L567.89 486.40L568.28 486.40L568.67 486.40L569.07 486.40L569.46 486.40L569.85 486.40L570.25 486.40L570.64 486.40L571.03 486.40L571.43 486.40L571.82 486.40L572.21 486.40L572.60 486.40L573.00 486.40L573.39 486.40L573.78 486.40L574.18 486.40L574.57 486.40L574.96 486.40L575.36 486.40L575.75 486.40L576.14 486.40L576.34 486.40L576.54 484.62L576.93 458.78L577.32 447.09L577.72 467.57L578.11 433.27L578.50 421.63L578.90 422.42L579.29 396.98L579.68 424.71L580.08 455.01L580.47 451.07L580.86 475.54L581.26 486.40L581.65 486.40L582.04 486.40L582.44 486.40L582.83 486.40L583.22 486.40L583.62 486.40L584.01 486.40L584.40 486.40L584.80 486.40L585.19 486.40L585.58 486.40L585.98 486.40L586.37 486.40L586.76 486.40L587.16 486.40L587.55 486.40L587.94 486.40L588.33 486.40L588.73 486.40L589.12 486.40L589.51 486.40L589.91 486.40L590.30 486.40L590.69 486.40L590.70 486.40L591.09 474.97L591.48 452.49L591.87 476.31L592.27 486.04L592.31 486.40L592.66 486.40L593.05 486.40L593.45 486.40L593.84 486.40L594.23 486.40L594.63 486.40L595.02 486.40L595.41 486.40L595.81 486.40L596.20 486.40L596.59 486.40L596.99 486.40L597.38 486.40L597.77 486.40L598.17 486.40L598.56 486.40L598.95 485.02L599.35 480.38L599.74 478.64L600.13 464.34L600.53 467.37L600.92 463.26L601.31 454.96L601.71 451.79L602.10 446.81L602.49 437.80L602.89 447.62L603.28 445.19L603.67 442.28L604.06 450.56L604.46 437.35L604.85 413.16L605.24 422.32L605.64 402.30L606.03 389.88L606.42 368.87L606.82 348.13L607.21 396.76L607.60 395.44L608.00 414.70L608.39 448.24L608.78 457.03L609.18 464.64L609.57 466.44L609.96 479.56L610.36 486.31L610.36 486.40L610.75 486.40L611.14 486.40L611.54 486.40L611.93 486.40L612.32 486.40L612.72 486.40L613.11 486.40L613.50 484.75L613.90 474.94L614.29 484.84L614.68 486.40L615.08 486.40L615.47 486.40L615.86 486.40L616.26 486.40L616.65 486.40L617.04 486.40L617.44 486.40L617.83 486.40L618.22 486.40L618.62 484.50L619.01 473.72L619.40 469.39L619.79 464.91L620.19 459.03L620.58 452.27L620.97 440.98L621.37 437.92L621.76 456.01L622.15 459.17L622.55 460.06L622.94 469.57L623.33 461.58L623.73 463.18L624.12 462.24L624.51 453.31L624.91 449.27L625.30 440.63L625.69 451.43L626.09 461.57L626.48 467.97L626.87 480.93L627.27 485.77L627.38 486.40L627.66 486.40L628.05 486.40L628.45 486.40L628.84 486.40L629.23 486.40L629.63 486.40L630.02 486.40L630.41 486.40L630.81 486.40L631.20 486.40L631.59 486.40L631.99 486.40L632.38 486.40L632.77 486.40L633.17 486.40L633.56 486.40L633.95 486.40L634.35 486.40L634.74 486.40L635.13 486.40L635.52 486.40L635.92 486.40L636.31 486.40L636.70 486.40L637.10 486.40L637.49 486.40L637.88 486.40L638.28 486.40L638.67 486.40L639.06 486.40L639.46 486.40L639.85 486.40L639.85 486.40Z" fill="#008000" stroke="none"/>
<path d="M60.20 486.40L60.20 486.40L60.59 486.40L60.99 486.40L61.38 486.40L61.77 486.40L62.17 486.40L62.56 486.40L62.95 486.40L63.35 486.40L63.74 486.40L64.13 486.40L64.53 486.40L64.92 486.40L65.31 486.40L65.71 486.40L66.05 486.40L66.10 487.03L66.49 490.28L66.89 494.93L67.28 501.48L67.67 502.94L68.06 504.98L68.46 508.01L68.85 511.68L69.24 509.35L69.64 499.45L70.03 494.01L70.42 486.40L70.82 486.40L71.21 486.40L71.60 486.40L72.00 486.40L72.39 486.40L72.78 486.40L73.18 486.40L73.57 486.40L73.96 486.40L74.36 486.40L74.75 486.40L75.14 486.40L75.54 486.40L75.93 486.40L76.32 499.08L76.72 510.92L77.11 519.49L77.50 525.63L77.90 529.75L78.29 539.92L78.68 520.21L79.08 523.58L79.47 513.98L79.86 500.22L80.26 491.18L80.49 486.40L80.65 486.40L81.04 486.40L81.44 486.40L81.83 486.40L82.22 486.40L82.62 486.40L83.01 486.40L83.40 486.40L83.79 486.40L84.19 486.40L84.58 486.40L84.97 486.40L85.37 486.40L85.76 486.40L86.15 486.40L86.55 486.40L86.94 486.40L87.33 486.40L87.73 486.40L88.12 486.40L88.51 486.40L88.91 486.40L89.30 486.40L89.69 486.40L89.94 486.40L90.09 487.01L90.48 494.05L90.87 509.80L91.27 517.79L91.66 505.34L92.05 531.65L92.45 522.23L92.84 508.46L93.23 507.30L93.63 502.69L94.02 504.03L94.41 502.94L94.81 502.48L95.20 503.32L95.59 519.66L95.99 499.93L96.25 486.40L96.38 486.40L96.77 486.40L97.17 486.40L97.56 486.40L97.95 492.66L98.35 510.04L98.74 517.23L99.13 515.11L99.52 524.44L99.92 529.41L100.31 535.06L100.70 535.41L101.10 526.29L101.49 544.96L101.88 547.63L102.28 533.78L102.67 536.58L103.06 536.03L103.46 525.29L103.85 542.56L104.24 548.36L104.64 552.58L105.03 558.88L105.42 549.11L105.82 543.78L106.21 568.42L106.60 561.74L107.00 556.48L107.39 552.58L107.78 556.28L108.18 557.36L108.57 561.22L108.96 560.56L109.36 555.71L109.75 542.40L110.14 542.30L110.54 541.55L110.93 543.55L111.32 542.42L111.72 530.84L112.11 545.35L112.50 546.30L112.90 540.72L113.29 519.17L113.68 518.69L114.08 511.85L114.47 498.20L114.86 486.40L115.25 486.40L115.65 486.40L116.04 486.40L116.43 486.40L116.83 486.40L117.22 486.40L117.61 486.40L117.97 486.40L118.01 487.21L118.40 486.40L118.79 487.18L119.19 497.50L119.58 500.39L119.97 486.40L120.37 486.40L120.76 486.40L120.92 486.40L121.15 496.46L121.55 499.82L121.94 516.50L122.33 523.11L122.73 495.42L123.12 487.32L123.51 486.40L123.91 486.40L124.30 486.40L124.69 486.40L125.09 486.40L125.48 486.40L125.87 486.40L126.27 486.40L126.66 486.40L127.05 486.40L127.45 486.40L127.84 486.40L128.23 486.40L128.63 486.40L129.02 486.40L129.41 486.40L129.81 486.40L130.20 486.40L130.59 486.40L130.98 486.40L131.38 486.40L131.77 486.40L132.16 486.40L132.56 486.40L132.95 486.40L133.34 486.40L133.74 486.40L134.13 486.40L134.52 486.40L134.92 486.47L135.31 495.98L135.70 505.07L136.10 513.98L136.49 517.63L136.88 522.88L137.28 526.87L137.67 525.02L138.06 541.55L138.46 541.83L138.85 558.33L139.24 571.39L139.64 574.34L140.03 552.66L140.42 541.55L140.82 524.66L141.21 492.23L141.60 492.77L142.00 486.40L142.39 486.40L142.78 486.40L143.18 486.40L143.21 486.40L143.57 488.11L143.96 494.96L144.36 515.06L144.75 523.50L145.14 531.36L145.54 538.42L145.93 517.80L146.32 500.73L146.71 489.19L146.89 486.40L147.11 486.40L147.50 486.40L147.89 486.40L148.29 486.40L148.68 486.40L149.07 486.40L149.47 486.40L149.86 486.40L150.25 486.40L150.65 486.40L151.04 486.40L151.43 486.40L151.83 486.40L152.22 486.40L152.61 486.40L153.01 486.40L153.40 486.40L153.79 486.40L154.02 486.40L154.19 487.25L154.58 493.96L154.97 486.40L155.37 486.40L155.76 486.40L156.15 486.40L156.55 486.40L156.94 486.40L157.33 486.40L157.73 486.40L158.06 486.40L158.12 487.35L158.51 489.53L158.91 504.85L159.30 530.62L159.69 558.44L160.09 549.90L160.48 518.47L160.87 519.49L161.27 521.25L161.66 519.54L162.05 518.50L162.44 522.26L162.84 527.92L163.23 538.27L163.62 525.37L164.02 509.34L164.41 508.46L164.80 511.15L165.20 504.77L165.59 514.25L165.98 523.60L166.38 528.02L166.77 518.07L167.16 507.63L167.56 502.94L167.95 508.59L168.34 510.96L168.74 522.74L169.13 530.69L169.52 515.37L169.92 496.25L170.31 489.66L170.70 486.40L171.10 486.40L171.49 486.40L171.88 486.40L172.28 486.40L172.67 486.40L173.06 486.40L173.46 486.40L173.85 486.40L174.24 486.57L174.64 486.40L175.03 493.56L175.42 517.06L175.82 523.35L176.21 529.03L176.60 526.47L177.00 540.59L177.39 543.13L177.78 533.27L178.17 511.68L178.57 508.97L178.96 506.71L179.35 487.96L179.54 486.40L179.75 486.40L180.14 486.40L180.53 486.40L180.93 486.40L181.32 486.40L181.71 486.40L182.11 486.40L182.50 486.40L182.89 486.40L183.29 486.40L183.68 486.40L184.07 486.40L184.47 486.40L184.86 486.40L185.25 486.40L185.65 486.40L186.04 486.79L186.43 493.26L186.83 500.11L187.22 504.11L187.61 504.99L188.01 511.35L188.40 505.97L188.79 517.31L189.19 510.72L189.58 497.75L189.97 491.81L190.37 486.40L190.76 486.40L191.15 486.40L191.55 486.40L191.94 486.40L192.33 486.40L192.73 486.40L193.12 489.00L193.51 487.69L193.90 490.89L194.30 494.41L194.69 492.47L195.08 498.81L195.48 499.37L195.87 500.81L196.26 498.48L196.66 495.63L197.05 490.87L197.44 489.13L197.84 488.22L198.14 486.40L198.23 486.40L198.62 486.40L199.02 486.40L199.41 486.40L199.80 486.40L200.20 486.40L200.59 486.40L200.98 486.40L201.38 486.40L201.77 486.40L202.16 486.40L202.56 486.40L202.95 486.40L203.34 486.40L203.74 486.40L204.13 486.40L204.52 486.40L204.92 486.40L205.31 486.40L205.70 486.40L206.10 486.40L206.49 486.40L206.88 486.40L207.28 486.40L207.67 486.40L208.06 486.40L208.46 486.40L208.85 488.04L209.24 489.24L209.63 500.47L210.03 507.94L210.42 488.20L210.81 486.40L211.21 489.17L211.55 486.40L211.60 486.40L211.99 486.40L212.39 486.40L212.78 486.40L213.17 486.40L213.57 486.40L213.96 486.40L214.35 486.40L214.75 492.15L215.14 496.84L215.53 506.97L215.93 512.73L216.32 513.68L216.71 516.23L217.11 508.23L217.50 530.12L217.89 534.58L218.29 531.98L218.68 541.01L219.07 539.81L219.47 539.73L219.86 548.87L220.25 523.13L220.65 519.25L221.04 530.11L221.43 524.81L221.83 503.77L222.22 517.98L222.61 507.53L223.01 513.96L223.40 513.03L223.79 499.58L224.19 502.40L224.58 509.29L224.97 508.46L225.36 509.24L225.76 511.63L226.15 505.51L226.54 514.16L226.94 519.07L227.33 521.22L227.72 503.14L228.12 486.40L228.51 486.40L228.90 486.40L229.30 486.40L229.69 486.40L230.08 486.40L230.48 486.40L230.87 486.40L231.26 486.40L231.66 486.40L232.05 494.03L232.44 502.99L232.84 492.22L233.23 486.40L233.62 486.40L234.02 486.40L234.41 486.40L234.80 486.40L235.20 486.40L235.59 486.40L235.98 486.40L236.38 486.40L236.77 486.40L237.16 486.40L237.56 486.40L237.95 486.40L238.34 486.40L238.74 486.40L239.13 486.40L239.52 487.09L239.92 491.28L240.31 503.55L240.70 511.59L241.09 507.53L241.49 506.69L241.88 536.37L242.27 534.55L242.67 521.81L243.06 522.24L243.45 519.49L243.85 509.35L244.24 528.07L244.63 534.00L245.03 530.55L245.42 504.15L245.81 488.79L246.21 486.40L246.60 486.40L246.99 486.40L247.39 486.40L247.78 486.40L248.17 486.40L248.57 486.40L248.96 486.40L249.35 486.40L249.75 486.40L250.14 486.40L250.53 486.40L250.93 486.40L251.32 486.40L251.71 486.40L252.11 486.40L252.50 486.40L252.89 486.40L253.29 486.40L253.68 486.40L254.07 486.40L254.47 486.40L254.86 486.40L255.25 486.40L255.65 486.40L256.04 486.40L256.43 486.40L256.82 486.40L257.22 486.40L257.61 486.40L258.00 486.40L258.40 486.40L258.79 486.40L259.18 486.40L259.58 486.40L259.97 486.40L260.36 486.40L260.76 495.45L261.15 505.67L261.54 519.49L261.94 525.70L262.33 563.95L262.72 546.54L263.12 520.54L263.51 519.28L263.90 502.18L264.30 500.17L264.69 494.67L265.08 488.90L265.48 488.54L265.87 491.75L266.26 497.08L266.66 499.89L267.05 487.13L267.44 487.53L267.84 486.40L268.23 486.40L268.62 486.40L269.02 486.40L269.41 486.40L269.80 486.40L270.20 488.02L270.59 489.05L270.98 490.54L271.38 491.51L271.77 497.02L272.16 508.46L272.55 509.67L272.95 511.10L273.34 513.11L273.73 517.65L274.13 515.00L274.52 522.77L274.91 522.61L275.31 531.08L275.70 518.97L276.09 515.88L276.49 511.67L276.88 508.46L277.27 513.14L277.67 510.37L278.06 511.68L278.45 498.64L278.85 513.46L279.24 504.13L279.63 487.13L280.03 486.40L280.42 486.40L280.81 486.40L281.21 486.40L281.60 486.40L281.99 486.40L282.22 486.40L282.39 489.18L282.78 488.55L283.17 503.39L283.57 513.98L283.96 520.17L284.35 522.53L284.75 533.00L285.14 535.88L285.53 506.30L285.93 489.55L286.21 486.40L286.32 486.40L286.71 486.40L287.11 486.40L287.50 486.40L287.89 486.40L288.28 486.40L288.68 486.40L289.07 488.54L289.46 494.80L289.86 500.92L290.25 491.56L290.64 505.44L291.04 509.90L291.43 513.83L291.82 517.72L292.22 521.34L292.61 523.13L293.00 519.71L293.40 530.95L293.79 536.36L294.18 541.55L294.58 545.96L294.97 545.33L295.36 550.17L295.76 550.38L296.15 566.41L296.54 557.95L296.94 548.94L297.33 548.73L297.72 547.06L298.12 535.75L298.51 547.45L298.90 552.25L299.30 559.33L299.69 559.49L300.08 544.87L300.48 534.38L300.87 527.54L301.26 515.74L301.66 513.41L302.05 492.19L302.44 486.40L302.84 486.40L303.23 486.40L303.62 486.40L304.02 486.40L304.41 486.40L304.80 486.40L305.19 486.40L305.59 486.40L305.98 486.40L306.37 486.40L306.41 486.40L306.77 492.79L307.16 514.51L307.55 507.90L307.95 491.80L308.28 486.40L308.34 486.40L308.73 486.40L309.13 486.40L309.52 486.40L309.91 486.40L310.31 486.40L310.70 486.40L311.09 486.40L311.49 486.40L311.88 486.40L312.27 486.40L312.67 486.40L313.06 486.40L313.45 486.40L313.85 486.40L314.24 486.40L314.63 486.40L315.03 486.40L315.42 486.40L315.81 486.40L316.21 501.59L316.60 508.46L316.99 511.64L317.39 518.09L317.78 513.59L318.17 530.52L318.57 535.26L318.96 543.41L319.35 549.82L319.75 541.00L320.14 542.59L320.53 552.06L320.92 552.43L321.32 546.40L321.71 557.17L322.10 560.84L322.50 573.07L322.89 563.35L323.28 584.94L323.68 591.33L324.07 575.98L324.46 563.04L324.86 552.58L325.25 545.44L325.64 545.81L326.04 538.27L326.43 536.03L326.82 537.09L327.22 538.67L327.61 539.38L328.00 540.63L328.40 533.27L328.79 521.54L329.18 515.96L329.58 510.79L329.97 494.29L330.34 486.40L330.36 486.40L330.76 486.40L331.15 486.40L331.54 486.40L331.94 486.40L332.33 486.40L332.72 486.40L333.12 486.40L333.51 486.40L333.90 486.40L334.30 486.40L334.69 486.40L335.08 486.40L335.48 486.40L335.87 486.40L336.26 486.40L336.65 486.40L337.05 486.40L337.44 486.40L337.83 486.40L338.23 486.40L338.62 486.40L339.01 486.40L339.41 486.40L339.80 486.40L340.19 488.79L340.59 494.26L340.98 502.61L341.37 487.71L341.77 503.40L342.16 498.81L342.55 511.48L342.95 513.61L343.34 511.01L343.73 506.71L344.13 502.25L344.52 498.93L344.91 496.54L345.31 489.17L345.56 486.40L345.70 486.40L346.09 486.40L346.49 486.40L346.88 486.40L347.27 486.40L347.67 486.40L348.06 486.40L348.45 486.40L348.85 486.40L349.24 486.40L349.43 486.40L349.63 489.04L350.03 495.78L350.42 506.46L350.81 514.38L351.21 517.67L351.60 524.97L351.99 521.22L352.38 515.22L352.78 509.23L353.17 513.98L353.56 512.43L353.96 515.99L354.35 516.40L354.74 517.52L355.14 517.69L355.53 519.60L355.92 520.35L356.32 507.34L356.71 500.81L357.10 501.12L357.50 502.94L357.89 495.43L358.28 489.15L358.68 486.40L359.07 486.40L359.46 486.40L359.86 486.40L360.25 486.40L360.64 486.40L361.04 486.40L361.43 486.40L361.82 486.40L362.22 486.40L362.61 486.40L363.00 486.40L363.40 486.40L363.79 491.60L364.18 502.80L364.58 513.98L364.97 517.72L365.36 505.77L365.76 534.88L366.15 545.29L366.54 526.20L366.94 507.91L367.33 501.79L367.72 486.40L368.11 486.40L368.51 486.40L368.90 486.40L369.29 486.40L369.69 486.40L370.08 486.40L370.47 486.40L370.87 486.40L371.26 486.40L371.65 486.40L372.05 486.40L372.44 486.40L372.83 486.40L373.23 486.40L373.62 486.40L373.98 486.40L374.01 486.70L374.41 491.58L374.80 494.33L375.19 502.94L375.59 505.62L375.98 506.64L376.37 505.32L376.77 516.10L377.16 512.83L377.55 510.45L377.95 491.98L378.34 502.94L378.73 503.89L379.13 501.47L379.52 506.50L379.91 508.06L380.31 511.78L380.70 512.41L381.09 519.20L381.49 509.27L381.88 524.91L382.27 499.15L382.67 487.11L383.06 488.47L383.37 486.40L383.45 486.40L383.84 486.40L384.24 486.40L384.63 486.40L385.02 486.40L385.42 486.40L385.81 486.40L386.20 486.40L386.60 486.40L386.99 486.40L387.38 486.40L387.78 486.40L388.17 486.40L388.56 486.40L388.96 486.40L389.35 486.40L389.74 486.40L390.14 486.40L390.53 486.40L390.92 486.40L391.32 486.40L391.71 486.40L392.10 486.40L392.50 494.78L392.89 517.36L393.28 539.03L393.68 535.94L394.07 527.39L394.46 530.52L394.86 537.84L395.25 560.51L395.64 558.31L396.04 522.35L396.43 531.47L396.82 525.00L397.22 521.02L397.61 527.03L398.00 533.08L398.40 535.81L398.79 528.89L399.18 509.76L399.57 501.27L399.97 490.41L400.36 486.40L400.75 486.40L401.15 486.40L401.54 486.40L401.93 486.40L402.33 486.40L402.72 486.40L403.11 486.40L403.51 486.40L403.90 486.40L404.29 486.40L404.69 486.40L405.08 486.40L405.47 486.40L405.87 486.40L406.26 486.40L406.65 486.40L406.66 486.40L407.05 490.80L407.44 500.47L407.83 530.52L408.23 542.68L408.62 551.64L409.01 593.57L409.41 595.42L409.80 556.73L410.19 568.43L410.59 556.93L410.98 536.70L411.37 549.26L411.77 542.77L412.16 541.31L412.55 541.15L412.95 540.83L413.34 539.90L413.73 539.82L414.13 543.69L414.52 545.13L414.91 546.60L415.30 536.75L415.70 549.63L416.09 538.49L416.48 525.79L416.88 552.17L417.27 555.01L417.66 559.08L418.06 555.25L418.45 572.18L418.84 582.02L419.24 546.52L419.63 540.66L420.02 528.89L420.42 486.40L420.81 486.40L421.20 486.40L421.60 486.40L421.99 486.40L422.38 486.40L422.78 486.40L423.17 486.40L423.56 486.40L423.78 486.40L423.96 493.76L424.35 488.17L424.49 486.40L424.74 486.40L425.14 486.40L425.53 486.40L425.92 486.40L426.32 486.40L426.71 486.40L427.10 486.40L427.50 486.40L427.89 486.40L428.28 486.40L428.68 486.40L429.07 486.40L429.46 486.40L429.47 486.40L429.86 491.68L430.25 502.94L430.64 508.23L431.03 521.70L431.43 498.00L431.82 489.27L432.21 486.40L432.61 486.40L433.00 486.40L433.39 486.40L433.79 486.40L434.18 486.40L434.57 486.40L434.97 486.40L435.36 486.40L435.75 486.40L436.15 486.40L436.54 486.40L436.93 486.40L437.33 486.40L437.72 486.40L438.11 486.40L438.51 486.40L438.90 486.40L439.29 486.40L439.69 486.40L440.08 486.40L440.47 486.40L440.87 486.40L441.26 486.40L441.65 486.40L442.05 486.40L442.44 486.40L442.83 494.56L443.23 499.13L443.62 512.91L444.01 510.23L444.41 492.81L444.80 506.06L445.19 502.94L445.59 503.60L445.98 503.04L446.37 505.42L446.76 490.22L447.16 488.11L447.55 486.40L447.94 486.40L448.34 486.40L448.73 486.40L449.12 486.40L449.52 486.40L449.91 486.40L450.30 486.40L450.70 486.40L451.09 486.40L451.48 486.40L451.88 486.40L452.27 486.40L452.66 486.40L453.06 486.40L453.45 486.40L453.84 486.40L454.24 486.40L454.63 486.40L455.02 486.40L455.42 504.12L455.81 531.77L456.20 539.21L456.60 522.67L456.99 531.09L457.38 519.49L457.78 523.06L458.17 522.97L458.56 529.61L458.96 535.42L459.35 538.34L459.74 532.61L460.14 535.37L460.53 558.83L460.92 568.04L461.32 558.51L461.71 535.92L462.10 536.70L462.49 530.52L462.89 506.58L463.28 527.25L463.67 514.38L464.07 525.00L464.46 527.83L464.85 503.52L465.25 532.19L465.64 521.01L466.03 518.88L466.43 507.73L466.82 502.94L467.21 488.96L467.61 487.46L467.68 486.40L468.00 486.40L468.39 486.40L468.79 486.40L469.18 486.40L469.57 486.40L469.97 486.40L470.36 486.40L470.75 486.40L471.15 486.40L471.54 486.40L471.93 486.40L472.33 486.40L472.72 486.40L473.11 486.40L473.51 486.40L473.90 486.40L474.29 486.40L474.69 486.40L475.08 486.40L475.47 486.40L475.87 486.40L476.26 486.40L476.65 486.40L477.01 486.40L477.05 487.03L477.44 509.90L477.83 521.70L478.22 529.32L478.62 563.61L479.01 592.85L479.40 597.05L479.80 581.34L480.19 563.65L480.58 556.19L480.98 542.29L481.37 526.51L481.76 532.71L482.16 529.12L482.55 517.59L482.94 517.72L483.34 519.49L483.73 509.23L484.12 502.59L484.52 491.43L484.91 488.47L485.30 486.40L485.70 486.40L486.09 486.40L486.48 486.40L486.88 486.40L487.27 486.40L487.66 486.40L488.06 486.40L488.45 486.40L488.84 486.40L489.24 486.40L489.63 486.40L490.02 486.40L490.42 486.40L490.81 486.40L491.20 486.40L491.60 486.40L491.99 486.40L492.38 486.40L492.78 486.40L493.17 486.40L493.56 486.40L493.95 486.40L494.35 486.40L494.74 486.40L495.13 486.40L495.53 486.40L495.92 486.40L496.31 486.40L496.71 486.40L497.10 486.40L497.49 489.13L497.89 500.15L498.28 487.94L498.67 486.40L499.07 486.40L499.46 486.40L499.85 486.40L500.25 486.40L500.64 486.40L501.03 486.40L501.43 486.40L501.82 486.40L502.21 486.40L502.61 487.75L503.00 487.53L503.39 488.63L503.79 486.40L504.18 486.40L504.57 486.40L504.97 486.40L505.36 486.40L505.75 486.40L506.15 486.40L506.54 486.40L506.93 486.40L507.33 486.40L507.72 486.40L508.11 486.40L508.51 486.40L508.90 486.40L509.29 486.40L509.68 486.40L510.08 486.40L510.47 486.40L510.86 486.40L510.86 486.41L511.26 494.68L511.65 508.46L512.04 515.65L512.44 525.29L512.83 525.24L513.22 507.69L513.62 513.11L514.01 508.42L514.40 504.44L514.80 506.48L515.19 501.85L515.58 499.04L515.98 502.94L516.37 501.58L516.76 494.98L517.16 507.85L517.55 509.97L517.94 490.41L518.34 487.93L518.55 486.40L518.73 486.40L519.12 486.40L519.52 486.40L519.91 486.40L520.30 486.40L520.70 486.40L521.09 486.40L521.48 486.40L521.88 486.40L522.27 486.40L522.66 486.40L523.06 486.40L523.45 486.40L523.84 486.40L524.24 486.40L524.63 486.40L525.02 486.40L525.41 512.87L525.81 523.56L526.20 530.53L526.59 542.93L526.99 561.61L527.38 565.02L527.77 555.85L528.17 535.46L528.56 541.55L528.95 546.13L529.35 536.63L529.74 553.54L530.13 552.58L530.53 558.15L530.92 562.71L531.31 568.04L531.71 580.56L532.10 566.31L532.49 547.49L532.89 541.55L533.28 516.87L533.67 538.81L534.07 538.43L534.46 536.03L534.85 538.13L535.25 537.47L535.64 508.96L536.03 537.44L536.43 524.20L536.82 516.08L537.21 511.83L537.61 507.99L538.00 508.12L538.39 498.15L538.79 498.48L539.18 502.94L539.57 506.43L539.97 509.08L540.36 511.44L540.75 500.91L541.14 488.07L541.54 486.40L541.93 486.40L542.32 486.40L542.72 486.40L543.11 486.40L543.50 486.40L543.90 486.40L544.29 486.40L544.68 486.40L545.08 486.40L545.47 486.40L545.86 486.40L546.26 486.40L546.65 486.40L547.04 486.40L547.44 486.40L547.83 486.40L548.22 486.40L548.62 486.40L549.01 486.40L549.40 486.40L549.80 486.40L550.19 486.40L550.35 486.40L550.58 487.08L550.98 487.42L551.37 488.72L551.76 487.27L551.78 486.40L552.16 486.40L552.55 486.40L552.94 486.40L553.34 486.40L553.73 486.40L554.12 486.40L554.52 486.40L554.91 486.40L555.30 486.40L555.70 486.40L556.09 486.40L556.48 486.40L556.87 486.40L557.27 486.40L557.66 486.40L558.05 486.40L558.45 486.40L558.84 486.88L559.23 494.61L559.63 508.46L560.02 511.33L560.41 536.61L560.81 522.49L561.20 500.09L561.59 500.62L561.99 490.37L562.33 486.40L562.38 486.40L562.77 486.40L563.17 486.40L563.56 486.40L563.95 486.40L564.35 486.40L564.74 486.40L565.13 486.40L565.53 486.40L565.92 486.40L566.11 486.40L566.31 489.77L566.71 491.59L567.10 513.98L567.49 517.67L567.89 526.55L568.28 542.61L568.67 541.55L569.07 552.82L569.46 542.50L569.85 582.73L570.25 545.66L570.64 547.87L571.03 540.97L571.43 535.71L571.82 511.96L572.21 520.72L572.60 519.49L573.00 522.02L573.39 526.36L573.78 525.45L574.18 530.52L574.57 538.31L574.96 526.80L575.36 510.72L575.75 502.94L576.14 488.20L576.34 486.40L576.54 486.40L576.93 486.40L577.32 486.40L577.72 486.40L578.11 486.40L578.50 486.40L578.90 486.40L579.29 486.40L579.68 486.40L580.08 486.40L580.47 486.40L580.86 486.40L581.26 486.40L581.65 488.11L582.04 519.49L582.44 524.88L582.83 539.55L583.22 552.85L583.62 575.92L584.01 566.43L584.40 544.00L584.80 533.67L585.19 529.69L585.58 518.90L585.98 516.30L586.37 525.00L586.76 527.06L587.16 526.63L587.55 537.91L587.94 545.82L588.33 533.06L588.73 526.32L589.12 505.11L589.51 508.13L589.91 497.63L590.30 489.46L590.69 486.47L590.70 486.40L591.09 486.40L591.48 486.40L591.87 486.40L592.27 486.40L592.31 486.40L592.66 489.39L593.05 493.71L593.45 502.04L593.84 510.12L594.23 508.82L594.63 508.96L595.02 502.07L595.41 502.94L595.81 504.38L596.20 507.22L596.59 507.99L596.99 513.85L597.38 502.67L597.77 500.01L598.17 493.03L598.56 486.40L598.95 486.40L599.35 486.40L599.74 486.40L600.13 486.40L600.53 486.40L600.92 486.40L601.31 486.40L601.71 486.40L602.10 486.40L602.49 486.40L602.89 486.40L603.28 486.40L603.67 486.40L604.06 486.40L604.46 486.40L604.85 486.40L605.24 486.40L605.64 486.40L606.03 486.40L606.42 486.40L606.82 486.40L607.21 486.40L607.60 486.40L608.00 486.40L608.39 486.40L608.78 486.40L609.18 486.40L609.57 486.40L609.96 486.40L610.36 486.40L610.36 486.40L610.75 502.42L611.14 526.40L611.54 504.91L611.93 496.37L612.32 498.10L612.72 489.59L613.11 486.40L613.50 486.40L613.90 486.40L614.29 486.40L614.68 486.40L615.08 494.34L615.47 507.61L615.86 515.17L616.26 508.87L616.65 530.95L617.04 513.70L617.44 495.36L617.83 497.05L618.22 486.40L618.62 486.40L619.01 486.40L619.40 486.40L619.79 486.40L620.19 486.40L620.58 486.40L620.97 486.40L621.37 486.40L621.76 486.40L622.15 486.40L622.55 486.40L622.94 486.40L623.33 486.40L623.73 486.40L624.12 486.40L624.51 486.40L624.91 486.40L625.30 486.40L625.69 486.40L626.09 486.40L626.48 486.40L626.87 486.40L627.27 486.40L627.38 486.40L627.66 487.86L628.05 488.26L628.45 486.40L628.84 491.73L629.23 501.71L629.63 519.49L630.02 545.88L630.41 541.65L630.81 521.22L631.20 526.74L631.59 525.00L631.99 527.58L632.38 525.34L632.77 515.27L633.17 525.00L633.56 524.45L633.95 521.62L634.35 534.66L634.74 533.87L635.13 541.60L635.52 544.62L635.92 539.52L636.31 528.27L636.70 526.45L637.10 530.52L637.49 533.97L637.88 534.02L638.28 527.21L638.67 542.64L639.06 542.85L639.46 528.84L639.85 536.03L639.85 486.40Z" fill="#ff0000" stroke="none"/>
<path d="M60.20 456.07L60.59 445.09L60.99 459.08L61.38 442.83L61.77 449.72L62.17 454.60L62.56 440.63L62.95 456.07L63.35 454.56L63.74 444.98L64.13 440.63L64.53 441.73L64.92 456.98L65.31 477.90L65.71 481.76L65.99 486.40L66.10 488.22L66.49 494.15L66.89 499.88L67.28 507.72L67.67 502.94L68.06 505.73L68.46 509.49L68.85 512.87L69.24 515.43L69.64 499.76L70.03 494.01L70.33 486.40L70.42 484.12L70.82 479.01L71.21 436.76L71.60 408.09L72.00 414.62L72.39 437.06L72.78 402.02L73.18 400.92L73.57 406.43L73.96 402.89L74.36 414.70L74.75 447.79L75.14 477.91L75.54 484.73L75.93 486.28L75.93 486.40L76.32 499.96L76.72 513.77L77.11 519.49L77.50 531.58L77.90 530.05L78.29 542.10L78.68 520.21L79.08 534.18L79.47 513.98L79.86 503.86L80.26 497.25L80.47 486.40L80.65 477.72L80.98 486.40L81.04 488.14L81.06 486.40L81.44 453.31L81.83 457.00L82.22 436.58L82.62 465.23L83.01 435.66L83.40 436.76L83.79 443.41L84.19 452.52L84.58 447.79L84.97 452.98L85.37 425.73L85.76 419.99L86.15 407.54L86.55 408.64L86.94 407.54L87.33 410.25L87.73 422.98L88.12 444.16L88.51 453.31L88.91 457.33L89.30 476.98L89.69 485.39L89.87 486.40L90.09 487.63L90.48 494.73L90.87 513.98L91.27 522.51L91.66 505.34L92.05 533.28L92.45 534.38L92.84 508.46L93.23 507.97L93.63 502.69L94.02 504.90L94.41 502.94L94.81 502.48L95.20 503.32L95.59 521.70L95.99 501.37L96.20 486.40L96.38 473.71L96.77 481.92L96.99 486.40L97.17 490.18L97.30 486.40L97.56 479.32L97.77 486.40L97.95 492.66L98.35 513.98L98.74 523.42L99.13 515.11L99.52 529.41L99.92 530.52L100.31 543.86L100.70 538.96L101.10 526.29L101.49 548.38L101.88 548.72L102.28 533.78L102.67 536.58L103.06 536.03L103.46 525.29L103.85 543.87L104.24 549.56L104.64 552.58L105.03 568.98L105.42 549.11L105.82 543.78L106.21 568.57L106.60 563.99L107.00 558.81L107.39 552.58L107.78 563.35L108.18 560.98L108.57 564.16L108.96 563.06L109.36 564.16L109.75 542.40L110.14 542.30L110.54 541.55L110.93 547.62L111.32 542.48L111.72 530.84L112.11 547.62L112.50 547.62L112.90 546.51L113.29 519.17L113.68 523.68L114.08 513.98L114.47 499.33L114.83 486.40L114.86 485.31L115.25 486.02L115.65 476.62L116.04 464.48L116.43 400.92L116.83 427.44L117.22 451.56L117.61 476.80L117.92 486.40L118.01 489.09L118.38 486.40L118.40 486.28L118.46 486.40L118.79 487.18L119.19 498.05L119.58 502.94L119.97 486.76L119.98 486.40L120.37 473.66L120.76 477.97L120.91 486.40L121.15 499.70L121.55 499.82L121.94 519.07L122.33 528.31L122.73 495.42L123.12 487.32L123.51 489.19L123.71 486.40L123.91 483.66L124.30 475.78L124.69 473.52L125.09 459.35L125.48 440.07L125.87 463.10L126.27 451.83L126.66 458.82L127.05 454.39L127.45 465.94L127.84 447.91L128.23 452.27L128.63 436.76L129.02 436.98L129.41 445.31L129.81 457.12L130.20 457.58L130.59 453.31L130.98 458.74L131.38 442.59L131.77 436.12L132.16 436.48L132.56 425.73L132.95 446.97L133.34 458.82L133.74 481.70L133.92 486.40L134.13 491.82L134.36 486.40L134.52 482.62L134.91 486.40L134.92 486.47L135.31 497.09L135.70 505.30L136.10 513.98L136.49 521.03L136.88 528.86L137.28 528.28L137.67 525.02L138.06 541.55L138.46 541.83L138.85 564.62L139.24 575.86L139.64 580.71L140.03 555.10L140.42 541.55L140.82 529.89L141.21 492.23L141.60 495.87L141.88 486.40L142.00 482.31L142.39 485.59L142.78 476.87L143.18 485.86L143.27 486.40L143.57 488.11L143.96 494.96L144.36 519.49L144.75 529.59L145.14 541.00L145.54 539.90L145.93 521.56L146.32 503.04L146.71 489.28L146.81 486.40L147.11 477.31L147.47 486.40L147.50 487.19L147.52 486.40L147.89 466.08L148.29 455.53L148.68 442.28L149.07 450.57L149.47 417.69L149.86 398.16L150.25 407.80L150.65 421.87L151.04 442.28L151.43 444.86L151.83 448.57L152.22 461.21L152.61 462.60L153.01 450.55L153.40 473.04L153.79 485.22L154.02 486.40L154.19 487.25L154.58 497.23L154.91 486.40L154.97 484.41L155.37 485.11L155.76 482.03L156.15 474.06L156.55 468.68L156.94 459.93L157.33 472.15L157.73 475.69L158.06 486.40L158.12 488.21L158.51 489.53L158.91 504.85L159.30 532.94L159.69 564.16L160.09 556.94L160.48 518.47L160.87 519.49L161.27 524.07L161.66 519.54L162.05 518.50L162.44 522.26L162.84 527.92L163.23 542.10L163.62 531.13L164.02 509.34L164.41 508.46L164.80 515.70L165.20 504.77L165.59 514.25L165.98 529.22L166.38 528.31L166.77 525.10L167.16 511.56L167.56 502.94L167.95 515.53L168.34 510.96L168.74 530.46L169.13 532.17L169.52 519.14L169.92 496.25L170.31 493.92L170.70 486.93L170.72 486.40L171.10 476.19L171.49 469.25L171.88 473.31L172.28 436.21L172.67 430.15L173.06 458.91L173.46 464.14L173.83 486.40L173.85 487.33L174.24 486.80L174.45 486.40L174.64 486.06L174.65 486.40L175.03 493.56L175.42 519.49L175.82 529.71L176.21 539.98L176.60 526.47L177.00 546.51L177.39 545.41L177.78 541.78L178.17 511.68L178.57 508.97L178.96 513.98L179.35 487.96L179.53 486.40L179.75 484.48L180.14 478.36L180.53 461.19L180.93 442.28L181.32 434.96L181.71 435.44L182.11 397.06L182.50 398.16L182.89 398.78L183.29 415.95L183.68 448.30L184.07 442.28L184.47 451.65L184.86 474.89L185.25 480.87L185.61 486.40L185.65 486.89L186.04 486.79L186.43 497.04L186.83 502.94L187.22 506.07L187.61 505.06L188.01 519.49L188.40 505.97L188.79 518.39L189.19 518.67L189.58 500.42L189.97 491.81L190.26 486.40L190.37 484.45L190.76 484.95L191.15 472.03L191.55 468.38L191.94 459.93L192.33 485.64L192.73 483.66L192.88 486.40L193.12 490.76L193.51 487.69L193.90 490.89L194.30 494.41L194.69 492.47L195.08 499.48L195.48 499.40L195.87 501.84L196.26 500.74L196.66 500.86L197.05 492.56L197.44 492.16L197.84 492.10L198.17 486.40L198.23 485.45L198.62 482.24L199.02 482.48L199.41 469.49L199.80 468.21L200.20 460.02L200.59 458.82L200.98 482.56L201.38 475.26L201.77 473.66L202.16 467.10L202.56 465.99L202.95 461.49L203.34 469.85L203.74 464.17L204.13 467.31L204.52 468.70L204.92 436.76L205.31 404.10L205.70 388.23L206.10 397.04L206.49 438.37L206.88 436.76L207.28 461.10L207.67 474.84L208.00 486.40L208.06 488.58L208.43 486.40L208.46 486.27L208.48 486.40L208.85 488.04L209.24 489.24L209.63 503.39L210.03 508.46L210.42 488.20L210.52 486.40L210.81 480.77L211.00 486.40L211.21 492.94L211.56 486.40L211.60 485.55L211.66 486.40L211.99 491.29L212.12 486.40L212.39 475.86L212.78 470.41L213.17 485.24L213.25 486.40L213.57 490.89L213.90 486.40L213.96 485.65L214.35 485.10L214.41 486.40L214.75 494.63L215.14 497.78L215.53 515.08L215.93 513.98L216.32 513.68L216.71 516.23L217.11 508.23L217.50 537.14L217.89 536.03L218.29 531.98L218.68 545.44L219.07 539.81L219.47 539.73L219.86 552.03L220.25 523.13L220.65 519.25L221.04 530.52L221.43 525.20L221.83 503.77L222.22 520.21L222.61 507.53L223.01 513.98L223.40 515.08L223.79 499.58L224.19 502.40L224.58 510.44L224.97 508.46L225.36 510.01L225.76 515.16L226.15 505.51L226.54 514.16L226.94 522.80L227.33 521.70L227.72 503.14L228.10 486.40L228.12 485.83L228.51 482.70L228.90 484.16L229.30 477.35L229.69 463.39L230.08 445.59L230.48 453.16L230.87 468.59L231.26 479.21L231.66 485.66L231.69 486.40L232.05 494.86L232.44 504.05L232.84 493.33L233.19 486.40L233.23 485.66L233.31 486.40L233.62 489.32L233.68 486.40L234.02 470.30L234.41 452.21L234.80 479.22L235.07 486.40L235.20 489.84L235.59 486.98L235.62 486.40L235.98 478.66L236.38 477.06L236.77 481.95L237.16 480.34L237.56 477.31L237.95 479.55L238.34 475.02L238.74 482.46L238.92 486.40L239.13 490.93L239.52 488.66L239.92 492.08L240.31 508.46L240.70 516.95L241.09 507.53L241.49 506.69L241.88 539.34L242.27 537.51L242.67 521.81L243.06 523.60L243.45 519.49L243.85 509.35L244.24 534.56L244.63 538.79L245.03 537.69L245.42 507.84L245.81 489.48L246.04 486.40L246.21 484.18L246.60 479.21L246.99 477.14L247.39 469.85L247.78 476.44L248.17 464.85L248.57 458.82L248.96 441.86L249.35 410.29L249.75 449.30L250.14 458.82L250.53 463.97L250.93 457.61L251.32 456.62L251.71 459.16L252.11 446.81L252.50 418.48L252.89 420.22L253.29 421.29L253.68 411.95L254.07 407.54L254.47 408.64L254.86 407.54L255.25 408.54L255.65 414.70L256.04 436.04L256.43 453.31L256.82 448.45L257.22 436.49L257.61 445.10L258.00 416.36L258.40 445.72L258.79 455.52L259.18 471.42L259.58 469.85L259.96 486.40L259.97 486.81L260.11 486.40L260.36 485.65L260.39 486.40L260.76 499.73L261.15 506.65L261.54 519.49L261.94 525.70L262.33 568.57L262.72 548.50L263.12 520.54L263.51 519.49L263.90 502.18L264.30 501.38L264.69 498.79L265.08 490.13L265.48 493.49L265.87 497.79L266.26 498.26L266.66 502.94L267.05 487.13L267.44 489.93L267.84 490.80L268.23 487.54L268.27 486.40L268.62 477.02L269.02 480.49L269.39 486.40L269.41 486.63L269.80 489.94L270.20 491.03L270.59 489.53L270.98 490.54L271.38 491.51L271.77 497.02L272.16 508.46L272.55 510.44L272.95 511.88L273.34 513.88L273.73 523.08L274.13 515.00L274.52 524.78L274.91 522.61L275.31 532.73L275.70 518.97L276.09 515.88L276.49 511.67L276.88 508.46L277.27 523.71L277.67 513.03L278.06 515.08L278.45 498.64L278.85 513.98L279.24 506.27L279.63 487.13L280.03 490.46L280.17 486.40L280.42 478.93L280.81 484.12L281.21 475.53L281.60 469.85L281.99 480.02L282.16 486.40L282.39 495.09L282.78 488.55L283.17 506.77L283.57 513.98L283.96 526.54L284.35 522.53L284.75 533.00L285.14 543.20L285.53 506.30L285.93 489.55L286.10 486.40L286.32 482.54L286.71 483.16L287.11 476.83L287.50 452.21L287.89 466.92L288.28 484.43L288.68 482.42L288.93 486.40L289.07 488.54L289.46 498.17L289.86 502.94L290.25 491.56L290.64 506.24L291.04 514.29L291.43 518.08L291.82 519.49L292.22 524.70L292.61 525.55L293.00 519.71L293.40 530.95L293.79 536.36L294.18 541.55L294.58 551.02L294.97 545.33L295.36 550.17L295.76 550.38L296.15 568.57L296.54 557.95L296.94 548.94L297.33 548.73L297.72 547.06L298.12 535.75L298.51 547.45L298.90 552.25L299.30 563.06L299.69 561.96L300.08 545.62L300.48 536.55L300.87 532.69L301.26 515.74L301.66 519.49L302.05 492.19L302.43 486.40L302.44 486.26L302.84 479.43L303.23 470.03L303.62 436.76L304.02 452.45L304.41 461.38L304.80 462.25L305.19 467.08L305.59 469.85L305.98 484.91L306.37 484.97L306.42 486.40L306.77 496.22L307.16 521.70L307.55 509.49L307.95 491.80L308.20 486.40L308.34 483.36L308.73 483.78L308.89 486.40L309.13 490.22L309.40 486.40L309.52 484.68L309.91 479.73L310.31 481.80L310.70 483.26L311.09 458.68L311.49 441.73L311.88 444.45L312.27 454.29L312.67 458.82L313.06 456.24L313.45 443.76L313.85 448.35L314.24 457.79L314.63 475.92L315.03 477.18L315.40 486.40L315.42 486.95L315.65 486.40L315.81 486.01L315.82 486.40L316.21 509.55L316.60 508.46L316.99 512.12L317.39 520.61L317.78 513.59L318.17 530.52L318.57 536.27L318.96 547.47L319.35 549.82L319.75 541.00L320.14 542.59L320.53 553.68L320.92 552.58L321.32 546.40L321.71 559.60L322.10 561.82L322.50 589.24L322.89 563.35L323.28 592.84L323.68 591.74L324.07 580.67L324.46 568.91L324.86 552.58L325.25 545.44L325.64 554.55L326.04 538.82L326.43 536.03L326.82 538.91L327.22 542.10L327.61 541.18L328.00 541.00L328.40 537.19L328.79 521.54L329.18 516.24L329.58 513.98L329.97 499.59L330.32 486.40L330.36 484.92L330.76 482.46L331.15 473.95L331.54 458.82L331.94 440.80L332.33 460.49L332.72 455.65L333.12 431.25L333.51 428.30L333.90 402.02L334.30 438.21L334.69 443.58L335.08 442.28L335.48 448.86L335.87 461.05L336.26 466.07L336.65 469.85L337.05 481.16L337.44 483.65L337.83 477.75L338.23 474.50L338.62 468.11L339.01 458.82L339.41 476.36L339.80 481.85L340.04 486.40L340.19 489.17L340.59 494.53L340.98 502.94L341.37 487.71L341.77 503.40L342.16 498.81L342.55 515.08L342.95 513.98L343.34 515.08L343.73 511.41L344.13 504.79L344.52 499.47L344.91 496.54L345.31 489.17L345.53 486.40L345.70 484.33L346.09 485.99L346.49 475.77L346.88 484.85L347.27 482.72L347.67 475.92L348.06 476.40L348.45 475.92L348.85 481.08L349.24 478.72L349.47 486.40L349.63 492.07L350.03 499.04L350.42 508.46L350.81 524.22L351.21 521.82L351.60 525.00L351.99 523.85L352.38 515.22L352.78 509.23L353.17 513.98L353.56 512.43L353.96 517.84L354.35 516.73L354.74 519.01L355.14 518.00L355.53 521.70L355.92 520.59L356.32 507.34L356.71 500.81L357.10 501.12L357.50 502.94L357.89 498.97L358.28 491.48L358.68 490.46L358.83 486.40L359.07 480.32L359.46 469.85L359.86 460.54L360.25 456.80L360.64 438.97L361.04 435.77L361.43 432.05L361.82 429.04L362.22 438.35L362.61 458.82L363.00 463.51L363.30 486.40L363.40 493.92L363.79 496.84L364.18 508.74L364.58 513.98L364.97 519.00L365.36 505.77L365.76 539.68L366.15 546.51L366.54 528.44L366.94 507.91L367.33 502.94L367.59 486.40L367.72 478.14L368.11 482.60L368.51 473.04L368.90 442.28L369.29 438.12L369.69 426.77L370.08 419.36L370.47 397.61L370.87 433.91L371.26 431.73L371.65 423.07L372.05 442.28L372.44 460.24L372.83 464.62L373.23 483.97L373.62 479.49L373.99 486.40L374.01 486.74L374.41 494.12L374.80 494.33L375.19 502.94L375.59 507.11L375.98 506.64L376.37 505.32L376.77 516.73L377.16 516.98L377.55 517.84L377.95 491.98L378.34 502.94L378.73 505.63L379.13 501.47L379.52 508.39L379.91 508.46L380.31 517.68L380.70 513.43L381.09 525.96L381.49 509.27L381.88 527.76L382.27 499.15L382.67 487.11L383.06 491.75L383.41 486.40L383.45 485.85L383.84 475.12L384.24 467.70L384.63 458.82L385.02 448.79L385.42 441.52L385.81 446.60L386.20 430.15L386.60 437.94L386.99 451.81L387.38 458.82L387.78 466.63L388.17 442.58L388.56 453.31L388.96 449.24L389.35 447.98L389.74 442.83L390.14 455.77L390.53 470.97L390.92 469.85L391.32 472.16L391.71 482.99L392.10 484.21L392.18 486.40L392.50 494.78L392.89 517.36L393.28 539.90L393.68 540.69L394.07 527.39L394.46 530.52L394.86 537.84L395.25 566.37L395.64 567.47L396.04 522.35L396.43 537.70L396.82 525.00L397.22 521.02L397.61 527.03L398.00 538.24L398.40 538.24L398.79 537.14L399.18 513.35L399.57 502.94L399.97 490.41L400.31 486.40L400.36 485.83L400.44 486.40L400.75 488.55L400.88 486.40L401.15 482.06L401.54 458.82L401.93 459.66L402.33 456.26L402.72 453.79L403.11 420.22L403.51 429.37L403.90 414.50L404.29 367.76L404.69 366.17L405.08 401.11L405.47 420.22L405.87 474.43L406.26 478.30L406.65 486.30L406.66 486.40L407.05 492.79L407.44 500.47L407.83 530.52L408.23 550.48L408.62 551.64L409.01 605.52L409.41 601.39L409.80 556.73L410.19 584.28L410.59 558.10L410.98 536.70L411.37 559.20L411.77 544.24L412.16 541.55L412.55 542.65L412.95 542.65L413.34 539.90L413.73 539.82L414.13 548.00L414.52 548.17L414.91 547.06L415.30 536.75L415.70 553.68L416.09 538.49L416.48 525.79L416.88 552.58L417.27 558.61L417.66 563.80L418.06 555.25L418.45 575.32L418.84 585.12L419.24 546.52L419.63 543.08L420.02 530.52L420.41 486.40L420.42 485.83L420.48 486.40L420.81 489.26L420.93 486.40L421.20 480.24L421.60 464.34L421.99 457.97L422.38 438.42L422.78 454.77L423.17 453.68L423.56 475.02L423.80 486.40L423.96 493.76L424.35 488.17L424.47 486.40L424.74 482.19L425.14 469.85L425.53 467.40L425.92 452.78L426.32 442.28L426.71 441.06L427.10 437.84L427.50 426.29L427.89 425.18L428.28 450.73L428.68 458.82L429.07 483.98L429.46 485.99L429.49 486.40L429.86 492.61L430.25 502.94L430.64 508.23L431.03 522.80L431.43 498.00L431.82 489.27L432.10 486.40L432.21 485.18L432.61 475.49L432.97 486.40L433.00 487.35L433.39 486.40L433.39 486.39L433.79 472.95L434.18 469.85L434.57 468.65L434.97 471.29L435.36 464.34L435.75 451.83L436.15 458.83L436.54 456.97L436.93 444.49L437.33 453.94L437.72 463.52L438.11 465.32L438.51 469.85L438.90 457.86L439.29 468.74L439.69 463.24L440.08 464.34L440.47 470.18L440.87 484.08L441.26 472.00L441.65 480.12L442.05 484.50L442.44 474.56L442.63 486.40L442.83 498.72L443.23 499.13L443.62 513.98L444.01 515.08L444.41 492.81L444.80 512.63L445.19 502.94L445.59 503.94L445.98 503.04L446.37 505.70L446.76 490.22L447.16 488.11L447.55 491.08L447.64 486.40L447.94 469.85L448.34 465.84L448.73 469.09L449.12 446.40L449.52 436.76L449.91 439.28L450.30 447.23L450.70 428.76L451.09 398.16L451.48 392.04L451.88 352.39L452.27 395.08L452.66 406.94L453.06 420.22L453.45 445.88L453.84 460.10L454.24 469.85L454.63 481.77L455.02 485.16L455.04 486.40L455.42 508.46L455.81 547.62L456.20 539.21L456.60 522.67L456.99 548.72L457.38 519.49L457.78 529.54L458.17 522.97L458.56 532.47L458.96 536.03L459.35 540.33L459.74 532.61L460.14 535.37L460.53 563.63L460.92 569.68L461.32 564.06L461.71 535.92L462.10 542.72L462.49 530.52L462.89 506.58L463.28 529.07L463.67 514.38L464.07 525.00L464.46 531.80L464.85 503.52L465.25 533.28L465.64 521.01L466.03 527.51L466.43 507.77L466.82 502.94L467.21 488.96L467.61 488.90L467.68 486.40L468.00 474.43L468.39 484.50L468.79 468.45L469.18 464.34L469.57 462.40L469.97 441.63L470.36 436.76L470.75 447.99L471.15 420.77L471.54 419.12L471.93 415.06L472.33 420.22L472.72 437.37L473.11 400.92L473.51 400.92L473.90 402.02L474.29 400.92L474.69 433.50L475.08 431.25L475.47 469.25L475.87 470.06L476.26 483.78L476.65 476.76L477.00 486.40L477.05 487.65L477.44 513.98L477.83 523.87L478.22 529.32L478.62 563.61L479.01 605.52L479.40 606.63L479.80 599.06L480.19 568.28L480.58 558.10L480.98 542.29L481.37 526.51L481.76 535.51L482.16 530.52L482.55 517.59L482.94 517.72L483.34 519.49L483.73 509.23L484.12 511.01L484.52 493.11L484.91 492.82L485.30 486.86L485.32 486.40L485.70 478.27L486.09 485.61L486.48 469.85L486.88 475.30L487.27 475.01L487.66 477.46L488.06 471.58L488.45 478.04L488.84 484.23L489.24 467.57L489.63 467.10L490.02 461.48L490.42 458.89L490.81 468.30L491.20 453.08L491.60 450.55L491.99 466.79L492.38 469.85L492.78 462.55L493.17 458.89L493.56 442.28L493.95 422.47L494.35 428.06L494.74 397.06L495.13 429.95L495.53 438.80L495.92 431.25L496.31 453.06L496.71 467.24L497.10 486.40L497.10 486.57L497.49 489.13L497.89 505.15L498.28 487.94L498.67 497.79L498.90 486.40L499.07 477.84L499.46 464.34L499.85 466.72L500.25 435.66L500.64 434.83L501.03 470.57L501.43 469.85L501.82 473.65L502.09 486.40L502.21 492.01L502.61 490.55L503.00 487.53L503.39 488.63L503.67 486.40L503.79 485.50L504.18 484.45L504.57 477.31L504.97 480.51L505.36 469.85L505.75 469.94L506.15 459.56L506.54 452.70L506.93 442.28L507.33 435.52L507.72 438.99L508.11 420.22L508.51 430.27L508.90 453.31L509.29 468.46L509.68 475.99L510.08 485.80L510.47 478.47L510.86 486.40L510.86 486.41L511.26 494.68L511.65 508.46L512.04 519.00L512.44 528.87L512.83 529.97L513.22 507.69L513.62 519.36L514.01 508.46L514.40 504.44L514.80 509.56L515.19 501.85L515.58 499.04L515.98 502.94L516.37 501.58L516.76 494.98L517.16 507.85L517.55 514.53L517.94 490.41L518.34 489.38L518.58 486.40L518.73 484.62L519.12 476.36L519.52 469.85L519.91 463.23L520.30 465.58L520.70 423.48L521.09 420.22L521.48 414.50L521.88 404.64L522.27 353.49L522.66 371.16L523.06 392.65L523.45 414.70L523.84 426.49L524.24 466.79L524.63 478.69L525.02 485.74L525.03 486.40L525.41 519.49L525.81 527.64L526.20 532.51L526.59 544.62L526.99 567.77L527.38 569.68L527.77 566.23L528.17 535.46L528.56 541.55L528.95 553.81L529.35 536.63L529.74 563.23L530.13 552.58L530.53 561.05L530.92 562.71L531.31 568.04L531.71 584.57L532.10 578.77L532.49 547.49L532.89 541.55L533.28 516.87L533.67 540.86L534.07 542.65L534.46 536.03L534.85 542.65L535.25 539.34L535.64 508.96L536.03 538.24L536.43 524.20L536.82 517.09L537.21 516.15L537.61 508.46L538.00 513.97L538.39 498.15L538.79 498.48L539.18 502.94L539.57 510.44L539.97 512.87L540.36 511.77L540.75 505.15L541.14 488.07L541.54 492.61L541.93 487.40L541.97 486.40L542.32 476.36L542.72 464.77L543.11 458.82L543.50 465.65L543.90 455.97L544.29 422.77L544.68 436.76L545.08 437.44L545.47 408.64L545.86 422.47L546.26 434.32L546.65 442.28L547.04 443.32L547.44 470.39L547.83 480.15L548.22 484.47L548.62 482.91L549.01 469.85L549.40 466.78L549.80 461.58L550.19 485.94L550.27 486.40L550.58 488.11L550.98 487.42L551.37 488.72L551.76 489.11L551.82 486.40L552.16 469.85L552.55 463.21L552.94 453.88L553.34 447.79L553.73 442.28L554.12 450.43L554.52 447.00L554.91 443.38L555.30 449.82L555.70 454.81L556.09 458.82L556.48 462.82L556.87 465.05L557.27 482.82L557.66 469.85L558.05 476.52L558.38 486.40L558.45 488.42L558.84 487.68L559.23 494.61L559.63 508.46L560.02 511.33L560.41 539.90L560.81 523.55L561.20 500.09L561.59 502.94L561.99 492.50L562.31 486.40L562.38 484.97L562.77 478.40L563.17 471.92L563.56 458.82L563.95 455.26L564.35 425.73L564.74 434.16L565.13 444.68L565.53 464.34L565.92 483.14L566.02 486.40L566.31 495.73L566.71 491.59L567.10 513.98L567.49 517.67L567.89 530.97L568.28 561.12L568.67 541.55L569.07 559.50L569.46 542.50L569.85 584.57L570.25 545.66L570.64 549.07L571.03 541.55L571.43 545.29L571.82 511.96L572.21 520.94L572.60 519.49L573.00 524.40L573.39 532.32L573.78 525.45L574.18 530.52L574.57 540.45L574.96 529.08L575.36 511.87L575.75 502.94L576.14 488.20L576.25 486.40L576.54 481.20L576.93 453.31L577.32 437.43L577.72 467.57L578.11 431.25L578.50 413.92L578.90 422.42L579.29 386.58L579.68 422.95L580.08 455.01L580.47 442.28L580.86 473.41L581.23 486.40L581.26 487.49L581.65 488.11L582.04 519.49L582.44 525.35L582.83 547.85L583.22 553.21L583.62 579.60L584.01 579.95L584.40 547.18L584.80 536.91L585.19 530.52L585.58 518.90L585.98 516.30L586.37 525.00L586.76 529.35L587.16 526.63L587.55 537.91L587.94 547.06L588.33 539.57L588.73 543.72L589.12 505.11L589.51 508.46L589.91 499.47L590.30 489.52L590.69 486.63L590.70 486.40L591.09 474.97L591.48 448.35L591.87 475.87L592.27 485.42L592.33 486.40L592.66 491.94L593.05 494.05L593.45 502.94L593.84 513.98L594.23 508.82L594.63 513.26L595.02 502.07L595.41 502.94L595.81 506.27L596.20 510.66L596.59 507.99L596.99 513.98L597.38 502.67L597.77 503.34L598.17 493.03L598.44 486.40L598.56 483.53L598.95 483.04L599.35 478.81L599.74 478.64L600.13 464.34L600.53 467.37L600.92 463.26L601.31 453.31L601.71 451.58L602.10 446.81L602.49 436.76L602.89 447.62L603.28 445.19L603.67 442.28L604.06 450.56L604.46 437.35L604.85 409.19L605.24 422.32L605.64 402.30L606.03 389.88L606.42 364.42L606.82 344.66L607.21 396.76L607.60 376.49L608.00 414.70L608.39 448.24L608.78 457.03L609.18 464.64L609.57 464.34L609.96 477.59L610.36 486.31L610.36 486.40L610.75 512.07L611.14 527.76L611.54 504.91L611.93 496.37L612.32 500.84L612.72 489.59L612.91 486.40L613.11 483.00L613.50 484.75L613.90 470.88L614.29 484.60L614.68 481.16L614.84 486.40L615.08 494.34L615.47 508.46L615.86 523.15L616.26 508.87L616.65 532.73L617.04 515.65L617.44 495.36L617.83 498.02L618.18 486.40L618.22 485.15L618.62 481.88L619.01 469.87L619.40 460.81L619.79 458.88L620.19 458.82L620.58 448.30L620.97 439.96L621.37 431.25L621.76 456.01L622.15 458.82L622.55 459.34L622.94 469.57L623.33 461.58L623.73 463.18L624.12 462.24L624.51 453.31L624.91 448.61L625.30 440.63L625.69 443.80L626.09 458.55L626.48 464.34L626.87 480.93L627.27 485.77L627.31 486.40L627.66 491.23L628.05 490.66L628.41 486.40L628.45 485.98L628.47 486.40L628.84 492.34L629.23 502.30L629.63 519.49L630.02 550.93L630.41 542.09L630.81 521.22L631.20 527.00L631.59 525.00L631.99 533.58L632.38 526.11L632.77 515.27L633.17 525.00L633.56 524.45L633.95 521.62L634.35 536.03L634.74 533.87L635.13 546.51L635.52 545.41L635.92 539.52L636.31 528.27L636.70 526.45L637.10 530.52L637.49 539.21L637.88 534.07L638.28 527.21L638.67 545.41L639.06 544.31L639.46 528.84L639.85 536.03" fill="none" stroke="#000" stroke-width="0.85" stroke-linejoin="round"/>
<line x1="60.0" y1="465.44" x2="640.5" y2="465.44" stroke="#111" stroke-width="1.0" stroke-dasharray="3 1.6"/>
<line x1="60.0" y1="507.36" x2="640.5" y2="507.36" stroke="#111" stroke-width="1.0" stroke-dasharray="3 1.6"/>
<rect x="60.00" y="332.40" width="580.50" height="286.90" fill="none" stroke="#000" stroke-width="1.9"/>
<line x1="56.20" y1="596.70" x2="60.00" y2="596.70" stroke="#000" stroke-width="1.3"/>
<text transform="translate(53.60,601.30) scale(1,1.080)" class="t" font-size="13.20" text-anchor="end">−2</text>
<line x1="56.20" y1="541.55" x2="60.00" y2="541.55" stroke="#000" stroke-width="1.3"/>
<text transform="translate(53.60,546.15) scale(1,1.080)" class="t" font-size="13.20" text-anchor="end">−1</text>
<line x1="56.20" y1="486.40" x2="60.00" y2="486.40" stroke="#000" stroke-width="1.3"/>
<text transform="translate(53.60,491.00) scale(1,1.080)" class="t" font-size="13.20" text-anchor="end">0</text>
<line x1="56.20" y1="431.25" x2="60.00" y2="431.25" stroke="#000" stroke-width="1.3"/>
<text transform="translate(53.60,435.85) scale(1,1.080)" class="t" font-size="13.20" text-anchor="end">1</text>
<line x1="56.20" y1="376.10" x2="60.00" y2="376.10" stroke="#000" stroke-width="1.3"/>
<text transform="translate(53.60,380.70) scale(1,1.080)" class="t" font-size="13.20" text-anchor="end">2</text>
<line x1="64.40" y1="619.30" x2="64.40" y2="622.90" stroke="#000" stroke-width="1.3"/>
<line x1="83.30" y1="619.30" x2="83.30" y2="622.90" stroke="#000" stroke-width="1.3"/>
<line x1="106.93" y1="619.30" x2="106.93" y2="622.90" stroke="#000" stroke-width="1.3"/>
<line x1="130.55" y1="619.30" x2="130.55" y2="622.90" stroke="#000" stroke-width="1.3"/>
<line x1="154.18" y1="619.30" x2="154.18" y2="622.90" stroke="#000" stroke-width="1.3"/>
<line x1="177.80" y1="619.30" x2="177.80" y2="622.90" stroke="#000" stroke-width="1.3"/>
<line x1="201.42" y1="619.30" x2="201.42" y2="622.90" stroke="#000" stroke-width="1.3"/>
<line x1="225.05" y1="619.30" x2="225.05" y2="622.90" stroke="#000" stroke-width="1.3"/>
<line x1="248.67" y1="619.30" x2="248.67" y2="622.90" stroke="#000" stroke-width="1.3"/>
<line x1="272.30" y1="619.30" x2="272.30" y2="622.90" stroke="#000" stroke-width="1.3"/>
<line x1="295.92" y1="619.30" x2="295.92" y2="622.90" stroke="#000" stroke-width="1.3"/>
<line x1="319.55" y1="619.30" x2="319.55" y2="622.90" stroke="#000" stroke-width="1.3"/>
<line x1="343.17" y1="619.30" x2="343.17" y2="622.90" stroke="#000" stroke-width="1.3"/>
<line x1="366.80" y1="619.30" x2="366.80" y2="622.90" stroke="#000" stroke-width="1.3"/>
<line x1="390.42" y1="619.30" x2="390.42" y2="622.90" stroke="#000" stroke-width="1.3"/>
<line x1="414.05" y1="619.30" x2="414.05" y2="622.90" stroke="#000" stroke-width="1.3"/>
<line x1="437.67" y1="619.30" x2="437.67" y2="622.90" stroke="#000" stroke-width="1.3"/>
<line x1="461.30" y1="619.30" x2="461.30" y2="622.90" stroke="#000" stroke-width="1.3"/>
<line x1="484.92" y1="619.30" x2="484.92" y2="622.90" stroke="#000" stroke-width="1.3"/>
<line x1="508.55" y1="619.30" x2="508.55" y2="622.90" stroke="#000" stroke-width="1.3"/>
<line x1="532.17" y1="619.30" x2="532.17" y2="622.90" stroke="#000" stroke-width="1.3"/>
<line x1="555.80" y1="619.30" x2="555.80" y2="622.90" stroke="#000" stroke-width="1.3"/>
<line x1="579.42" y1="619.30" x2="579.42" y2="622.90" stroke="#000" stroke-width="1.3"/>
<line x1="603.05" y1="619.30" x2="603.05" y2="622.90" stroke="#000" stroke-width="1.3"/>
<line x1="626.67" y1="619.30" x2="626.67" y2="622.90" stroke="#000" stroke-width="1.3"/>
<line x1="636.12" y1="619.30" x2="636.12" y2="622.90" stroke="#000" stroke-width="1.3"/>
<text transform="translate(64.40,634.60) scale(1,1.080)" class="t" font-size="13.20" text-anchor="middle">1901</text>
<text transform="translate(154.18,634.60) scale(1,1.080)" class="t" font-size="13.20" text-anchor="middle">1920</text>
<text transform="translate(248.67,634.60) scale(1,1.080)" class="t" font-size="13.20" text-anchor="middle">1940</text>
<text transform="translate(343.17,634.60) scale(1,1.080)" class="t" font-size="13.20" text-anchor="middle">1960</text>
<text transform="translate(437.67,634.60) scale(1,1.080)" class="t" font-size="13.20" text-anchor="middle">1980</text>
<text transform="translate(532.17,634.60) scale(1,1.080)" class="t" font-size="13.20" text-anchor="middle">2000</text>
<text transform="translate(636.12,634.60) scale(1,1.080)" class="t" font-size="13.20" text-anchor="middle">2022</text>
<text transform="translate(650.70,465.30) scale(1,1.000)" class="t" font-size="15.30"><tspan font-weight="normal">+</tspan> σ/2</text>
<text transform="translate(650.70,506.90) scale(1,1.000)" class="t" font-size="15.30">- σ/2</text>
<text transform="translate(17.50,475.40) rotate(-90) scale(1,1.080)" class="t" font-size="19.10" text-anchor="middle">Nino 3.4 Index (° C)</text>
<text transform="translate(2.50,338.00) scale(1,1.000)" class="t" font-size="24.50">b.</text>
<text transform="translate(350.30,668.10) scale(1,1.030)" class="t" font-size="18.70" text-anchor="middle">Time</text>
</svg>
</body></html>
